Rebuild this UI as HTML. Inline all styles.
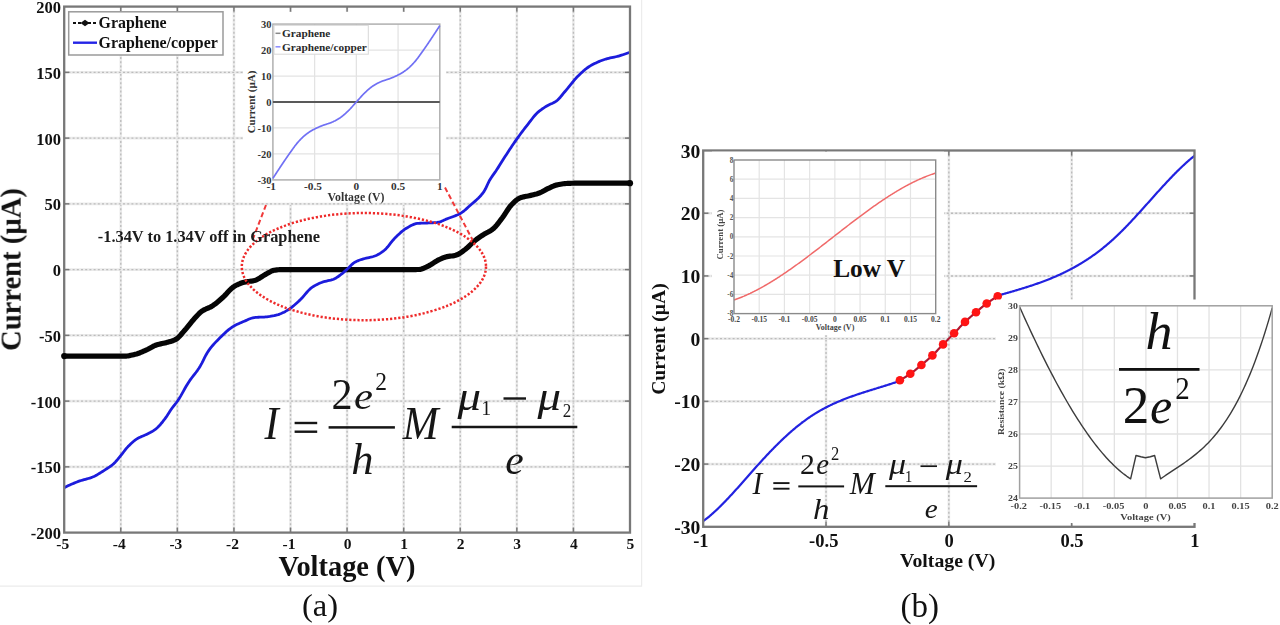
<!DOCTYPE html>
<html><head><meta charset="utf-8"><title>Figure</title>
<style>html,body{margin:0;padding:0;background:#fff;width:1280px;height:625px;overflow:hidden}svg{display:block;filter:blur(0.6px)}</style>
</head><body>
<svg width="1280" height="625" viewBox="0 0 1280 625">
<path d="M0,586.2 H641.6 V0" fill="none" stroke="#ececec" stroke-width="1.2"/>
<line x1="120.78" y1="6.60" x2="120.78" y2="532.60" stroke="#ebebeb" stroke-width="2.6"/>
<line x1="120.78" y1="6.60" x2="120.78" y2="532.60" stroke="#bcbcbc" stroke-width="1.4" stroke-dasharray="2 2.2"/>
<line x1="177.36" y1="6.60" x2="177.36" y2="532.60" stroke="#ebebeb" stroke-width="2.6"/>
<line x1="177.36" y1="6.60" x2="177.36" y2="532.60" stroke="#bcbcbc" stroke-width="1.4" stroke-dasharray="2 2.2"/>
<line x1="233.94" y1="6.60" x2="233.94" y2="532.60" stroke="#ebebeb" stroke-width="2.6"/>
<line x1="233.94" y1="6.60" x2="233.94" y2="532.60" stroke="#bcbcbc" stroke-width="1.4" stroke-dasharray="2 2.2"/>
<line x1="290.52" y1="6.60" x2="290.52" y2="532.60" stroke="#ebebeb" stroke-width="2.6"/>
<line x1="290.52" y1="6.60" x2="290.52" y2="532.60" stroke="#bcbcbc" stroke-width="1.4" stroke-dasharray="2 2.2"/>
<line x1="347.10" y1="6.60" x2="347.10" y2="532.60" stroke="#ebebeb" stroke-width="2.6"/>
<line x1="347.10" y1="6.60" x2="347.10" y2="532.60" stroke="#bcbcbc" stroke-width="1.4" stroke-dasharray="2 2.2"/>
<line x1="403.68" y1="6.60" x2="403.68" y2="532.60" stroke="#ebebeb" stroke-width="2.6"/>
<line x1="403.68" y1="6.60" x2="403.68" y2="532.60" stroke="#bcbcbc" stroke-width="1.4" stroke-dasharray="2 2.2"/>
<line x1="460.26" y1="6.60" x2="460.26" y2="532.60" stroke="#ebebeb" stroke-width="2.6"/>
<line x1="460.26" y1="6.60" x2="460.26" y2="532.60" stroke="#bcbcbc" stroke-width="1.4" stroke-dasharray="2 2.2"/>
<line x1="516.84" y1="6.60" x2="516.84" y2="532.60" stroke="#ebebeb" stroke-width="2.6"/>
<line x1="516.84" y1="6.60" x2="516.84" y2="532.60" stroke="#bcbcbc" stroke-width="1.4" stroke-dasharray="2 2.2"/>
<line x1="573.42" y1="6.60" x2="573.42" y2="532.60" stroke="#ebebeb" stroke-width="2.6"/>
<line x1="573.42" y1="6.60" x2="573.42" y2="532.60" stroke="#bcbcbc" stroke-width="1.4" stroke-dasharray="2 2.2"/>
<line x1="64.20" y1="466.85" x2="630.00" y2="466.85" stroke="#ebebeb" stroke-width="2.6"/>
<line x1="64.20" y1="466.85" x2="630.00" y2="466.85" stroke="#bcbcbc" stroke-width="1.4" stroke-dasharray="2 2.2"/>
<line x1="64.20" y1="401.10" x2="630.00" y2="401.10" stroke="#ebebeb" stroke-width="2.6"/>
<line x1="64.20" y1="401.10" x2="630.00" y2="401.10" stroke="#bcbcbc" stroke-width="1.4" stroke-dasharray="2 2.2"/>
<line x1="64.20" y1="335.35" x2="630.00" y2="335.35" stroke="#ebebeb" stroke-width="2.6"/>
<line x1="64.20" y1="335.35" x2="630.00" y2="335.35" stroke="#bcbcbc" stroke-width="1.4" stroke-dasharray="2 2.2"/>
<line x1="64.20" y1="269.60" x2="630.00" y2="269.60" stroke="#ebebeb" stroke-width="2.6"/>
<line x1="64.20" y1="269.60" x2="630.00" y2="269.60" stroke="#bcbcbc" stroke-width="1.4" stroke-dasharray="2 2.2"/>
<line x1="64.20" y1="203.85" x2="630.00" y2="203.85" stroke="#ebebeb" stroke-width="2.6"/>
<line x1="64.20" y1="203.85" x2="630.00" y2="203.85" stroke="#bcbcbc" stroke-width="1.4" stroke-dasharray="2 2.2"/>
<line x1="64.20" y1="138.10" x2="630.00" y2="138.10" stroke="#ebebeb" stroke-width="2.6"/>
<line x1="64.20" y1="138.10" x2="630.00" y2="138.10" stroke="#bcbcbc" stroke-width="1.4" stroke-dasharray="2 2.2"/>
<line x1="64.20" y1="72.35" x2="630.00" y2="72.35" stroke="#ebebeb" stroke-width="2.6"/>
<line x1="64.20" y1="72.35" x2="630.00" y2="72.35" stroke="#bcbcbc" stroke-width="1.4" stroke-dasharray="2 2.2"/>
<path d="M64.20,356.13 L65.62,356.13 L67.04,356.13 L68.45,356.13 L69.87,356.13 L71.29,356.13 L72.71,356.13 L74.13,356.13 L75.54,356.13 L76.96,356.13 L78.38,356.13 L79.80,356.13 L81.22,356.13 L82.63,356.13 L84.05,356.13 L85.47,356.13 L86.89,356.13 L88.31,356.13 L89.72,356.13 L91.14,356.13 L92.56,356.13 L93.98,356.13 L95.40,356.13 L96.82,356.13 L98.23,356.13 L99.65,356.13 L101.07,356.13 L102.49,356.13 L103.91,356.13 L105.32,356.13 L106.74,356.13 L108.16,356.13 L109.58,356.13 L111.00,356.13 L112.41,356.13 L113.83,356.13 L115.25,356.13 L116.67,356.13 L118.09,356.13 L119.50,356.13 L120.92,356.13 L122.34,356.13 L123.76,356.13 L125.18,356.12 L126.59,356.04 L128.01,355.87 L129.43,355.63 L130.85,355.33 L132.27,355.01 L133.68,354.66 L135.10,354.31 L136.52,353.94 L137.94,353.49 L139.36,352.98 L140.77,352.43 L142.19,351.84 L143.61,351.23 L145.03,350.62 L146.45,349.99 L147.86,349.28 L149.28,348.50 L150.70,347.70 L152.12,346.91 L153.54,346.16 L154.95,345.50 L156.37,344.97 L157.79,344.54 L159.21,344.18 L160.63,343.87 L162.05,343.57 L163.46,343.28 L164.88,342.96 L166.30,342.61 L167.72,342.22 L169.14,341.83 L170.55,341.41 L171.97,340.96 L173.39,340.45 L174.81,339.84 L176.23,339.11 L177.64,338.05 L179.06,336.71 L180.48,335.18 L181.90,333.54 L183.32,331.88 L184.73,330.28 L186.15,328.62 L187.57,326.87 L188.99,325.07 L190.41,323.28 L191.82,321.55 L193.24,319.92 L194.66,318.34 L196.08,316.74 L197.50,315.19 L198.91,313.73 L200.33,312.42 L201.75,311.31 L203.17,310.40 L204.59,309.64 L206.00,308.98 L207.42,308.36 L208.84,307.75 L210.26,307.09 L211.68,306.35 L213.09,305.47 L214.51,304.48 L215.93,303.40 L217.35,302.24 L218.77,301.03 L220.18,299.78 L221.60,298.51 L223.02,297.23 L224.44,295.90 L225.86,294.41 L227.28,292.85 L228.69,291.28 L230.11,289.77 L231.53,288.40 L232.95,287.23 L234.37,286.31 L235.78,285.52 L237.20,284.80 L238.62,284.13 L240.04,283.54 L241.46,283.01 L242.87,282.56 L244.29,282.18 L245.71,281.89 L247.13,281.65 L248.55,281.45 L249.96,281.27 L251.38,281.07 L252.80,280.84 L254.22,280.55 L255.64,280.15 L257.05,279.56 L258.47,278.80 L259.89,277.93 L261.31,277.00 L262.73,276.07 L264.14,275.17 L265.56,274.37 L266.98,273.59 L268.40,272.75 L269.82,271.93 L271.23,271.19 L272.65,270.61 L274.07,270.26 L275.49,270.07 L276.91,269.91 L278.32,269.77 L279.74,269.67 L281.16,269.61 L282.58,269.60 L284.00,269.60 L285.42,269.60 L286.83,269.60 L288.25,269.60 L289.67,269.60 L291.09,269.60 L292.51,269.60 L293.92,269.60 L295.34,269.60 L296.76,269.60 L298.18,269.60 L299.60,269.60 L301.01,269.60 L302.43,269.60 L303.85,269.60 L305.27,269.60 L306.69,269.60 L308.10,269.60 L309.52,269.60 L310.94,269.60 L312.36,269.60 L313.78,269.60 L315.19,269.60 L316.61,269.60 L318.03,269.60 L319.45,269.60 L320.87,269.60 L322.28,269.60 L323.70,269.60 L325.12,269.60 L326.54,269.60 L327.96,269.60 L329.37,269.60 L330.79,269.60 L332.21,269.60 L333.63,269.60 L335.05,269.60 L336.46,269.60 L337.88,269.60 L339.30,269.60 L340.72,269.60 L342.14,269.60 L343.55,269.60 L344.97,269.60 L346.39,269.60 L347.81,269.60 L349.23,269.60 L350.65,269.60 L352.06,269.60 L353.48,269.60 L354.90,269.60 L356.32,269.60 L357.74,269.60 L359.15,269.60 L360.57,269.60 L361.99,269.60 L363.41,269.60 L364.83,269.60 L366.24,269.60 L367.66,269.60 L369.08,269.60 L370.50,269.60 L371.92,269.60 L373.33,269.60 L374.75,269.60 L376.17,269.60 L377.59,269.60 L379.01,269.60 L380.42,269.60 L381.84,269.60 L383.26,269.60 L384.68,269.60 L386.10,269.60 L387.51,269.60 L388.93,269.60 L390.35,269.60 L391.77,269.60 L393.19,269.60 L394.60,269.60 L396.02,269.60 L397.44,269.60 L398.86,269.60 L400.28,269.60 L401.69,269.60 L403.11,269.60 L404.53,269.60 L405.95,269.60 L407.37,269.60 L408.78,269.60 L410.20,269.60 L411.62,269.59 L413.04,269.58 L414.46,269.57 L415.88,269.54 L417.29,269.51 L418.71,269.48 L420.13,269.36 L421.55,269.03 L422.97,268.54 L424.38,267.94 L425.80,267.27 L427.22,266.57 L428.64,265.89 L430.06,265.14 L431.47,264.27 L432.89,263.33 L434.31,262.37 L435.73,261.46 L437.15,260.64 L438.56,259.94 L439.98,259.25 L441.40,258.59 L442.82,257.98 L444.24,257.44 L445.65,256.98 L447.07,256.63 L448.49,256.37 L449.91,256.17 L451.33,256.00 L452.74,255.82 L454.16,255.60 L455.58,255.30 L457.00,254.85 L458.42,254.19 L459.83,253.36 L461.25,252.40 L462.67,251.36 L464.09,250.29 L465.51,249.23 L466.92,248.08 L468.34,246.78 L469.76,245.39 L471.18,244.00 L472.60,242.64 L474.02,241.38 L475.43,240.25 L476.85,239.18 L478.27,238.14 L479.69,237.14 L481.11,236.17 L482.52,235.23 L483.94,234.32 L485.36,233.49 L486.78,232.73 L488.20,231.99 L489.61,231.21 L491.03,230.35 L492.45,229.36 L493.87,228.17 L495.29,226.73 L496.70,225.10 L498.12,223.32 L499.54,221.47 L500.96,219.59 L502.38,217.73 L503.79,215.73 L505.21,213.57 L506.63,211.36 L508.05,209.20 L509.47,207.20 L510.88,205.48 L512.30,204.01 L513.72,202.58 L515.14,201.23 L516.56,200.01 L517.97,198.97 L519.39,198.16 L520.81,197.60 L522.23,197.18 L523.65,196.83 L525.06,196.54 L526.48,196.27 L527.90,196.00 L529.32,195.69 L530.74,195.35 L532.15,195.02 L533.57,194.69 L534.99,194.34 L536.41,193.97 L537.83,193.55 L539.25,193.08 L540.66,192.48 L542.08,191.76 L543.50,190.98 L544.92,190.18 L546.34,189.40 L547.75,188.69 L549.17,188.04 L550.59,187.37 L552.01,186.71 L553.43,186.09 L554.84,185.54 L556.26,185.10 L557.68,184.77 L559.10,184.47 L560.52,184.20 L561.93,183.97 L563.35,183.76 L564.77,183.60 L566.19,183.49 L567.61,183.42 L569.02,183.36 L570.44,183.31 L571.86,183.26 L573.28,183.23 L574.70,183.21 L576.11,183.20 L577.53,183.20 L578.95,183.20 L580.37,183.20 L581.79,183.20 L583.20,183.20 L584.62,183.20 L586.04,183.20 L587.46,183.20 L588.88,183.20 L590.29,183.20 L591.71,183.20 L593.13,183.20 L594.55,183.20 L595.97,183.20 L597.38,183.20 L598.80,183.20 L600.22,183.20 L601.64,183.20 L603.06,183.20 L604.48,183.20 L605.89,183.20 L607.31,183.20 L608.73,183.20 L610.15,183.20 L611.57,183.20 L612.98,183.20 L614.40,183.20 L615.82,183.20 L617.24,183.20 L618.66,183.20 L620.07,183.20 L621.49,183.20 L622.91,183.20 L624.33,183.20 L625.75,183.20 L627.16,183.20 L628.58,183.20 L630.00,183.20" fill="none" stroke="#050505" stroke-width="5.2" stroke-linejoin="round" stroke-linecap="butt"/>
<path d="M64.20,487.63 L65.62,486.93 L67.04,486.24 L68.45,485.58 L69.87,484.93 L71.29,484.29 L72.71,483.68 L74.13,483.09 L75.54,482.51 L76.96,481.96 L78.38,481.43 L79.80,480.94 L81.22,480.50 L82.63,480.08 L84.05,479.68 L85.47,479.29 L86.89,478.90 L88.31,478.49 L89.72,478.05 L91.14,477.57 L92.56,477.04 L93.98,476.44 L95.40,475.75 L96.82,474.99 L98.23,474.16 L99.65,473.29 L101.07,472.39 L102.49,471.48 L103.91,470.57 L105.32,469.67 L106.74,468.78 L108.16,467.87 L109.58,466.92 L111.00,465.91 L112.41,464.81 L113.83,463.59 L115.25,462.16 L116.67,460.55 L118.09,458.84 L119.50,457.09 L120.92,455.37 L122.34,453.61 L123.76,451.76 L125.18,449.92 L126.59,448.17 L128.01,446.59 L129.43,445.16 L130.85,443.78 L132.27,442.47 L133.68,441.24 L135.10,440.12 L136.52,439.13 L137.94,438.28 L139.36,437.55 L140.77,436.90 L142.19,436.30 L143.61,435.71 L145.03,435.09 L146.45,434.40 L147.86,433.68 L149.28,432.96 L150.70,432.23 L152.12,431.44 L153.54,430.59 L154.95,429.64 L156.37,428.57 L157.79,427.30 L159.21,425.84 L160.63,424.23 L162.05,422.51 L163.46,420.72 L164.88,418.89 L166.30,416.94 L167.72,414.80 L169.14,412.56 L170.55,410.33 L171.97,408.22 L173.39,406.31 L174.81,404.53 L176.23,402.75 L177.64,400.85 L179.06,398.71 L180.48,396.38 L181.90,393.91 L183.32,391.36 L184.73,388.80 L186.15,386.30 L187.57,383.91 L188.99,381.70 L190.41,379.66 L191.82,377.75 L193.24,375.91 L194.66,374.09 L196.08,372.24 L197.50,370.30 L198.91,368.23 L200.33,365.93 L201.75,363.33 L203.17,360.54 L204.59,357.71 L206.00,354.98 L207.42,352.49 L208.84,350.36 L210.26,348.46 L211.68,346.67 L213.09,345.00 L214.51,343.41 L215.93,341.89 L217.35,340.43 L218.77,339.00 L220.18,337.59 L221.60,336.18 L223.02,334.79 L224.44,333.42 L225.86,332.10 L227.28,330.83 L228.69,329.64 L230.11,328.53 L231.53,327.53 L232.95,326.63 L234.37,325.81 L235.78,325.05 L237.20,324.34 L238.62,323.67 L240.04,323.04 L241.46,322.42 L242.87,321.83 L244.29,321.23 L245.71,320.60 L247.13,319.95 L248.55,319.32 L249.96,318.74 L251.38,318.23 L252.80,317.82 L254.22,317.54 L255.64,317.41 L257.05,317.32 L258.47,317.25 L259.89,317.20 L261.31,317.16 L262.73,317.10 L264.14,317.04 L265.56,316.94 L266.98,316.82 L268.40,316.65 L269.82,316.45 L271.23,316.21 L272.65,315.94 L274.07,315.65 L275.49,315.32 L276.91,314.98 L278.32,314.57 L279.74,314.07 L281.16,313.50 L282.58,312.85 L284.00,312.14 L285.42,311.39 L286.83,310.60 L288.25,309.77 L289.67,308.84 L291.09,307.81 L292.51,306.69 L293.92,305.50 L295.34,304.26 L296.76,302.97 L298.18,301.66 L299.60,300.35 L301.01,299.00 L302.43,297.49 L303.85,295.86 L305.27,294.18 L306.69,292.50 L308.10,290.90 L309.52,289.43 L310.94,288.15 L312.36,287.13 L313.78,286.24 L315.19,285.41 L316.61,284.64 L318.03,283.94 L319.45,283.30 L320.87,282.71 L322.28,282.19 L323.70,281.71 L325.12,281.33 L326.54,281.01 L327.96,280.72 L329.37,280.43 L330.79,280.11 L332.21,279.71 L333.63,279.20 L335.05,278.51 L336.46,277.68 L337.88,276.74 L339.30,275.74 L340.72,274.71 L342.14,273.62 L343.55,272.41 L344.97,271.13 L346.39,269.84 L347.81,268.56 L349.23,267.16 L350.65,265.72 L352.06,264.34 L353.48,263.12 L354.90,262.17 L356.32,261.46 L357.74,260.84 L359.15,260.29 L360.57,259.80 L361.99,259.34 L363.41,258.92 L364.83,258.50 L366.24,258.13 L367.66,257.80 L369.08,257.51 L370.50,257.21 L371.92,256.87 L373.33,256.48 L374.75,256.01 L376.17,255.43 L377.59,254.74 L379.01,253.96 L380.42,253.09 L381.84,252.14 L383.26,251.13 L384.68,250.01 L386.10,248.63 L387.51,247.03 L388.93,245.29 L390.35,243.48 L391.77,241.68 L393.19,239.95 L394.60,238.37 L396.02,236.97 L397.44,235.59 L398.86,234.24 L400.28,232.92 L401.69,231.67 L403.11,230.51 L404.53,229.44 L405.95,228.51 L407.37,227.69 L408.78,226.87 L410.20,226.08 L411.62,225.34 L413.04,224.68 L414.46,224.13 L415.88,223.71 L417.29,223.47 L418.71,223.36 L420.13,223.27 L421.55,223.20 L422.97,223.15 L424.38,223.10 L425.80,223.06 L427.22,223.00 L428.64,222.94 L430.06,222.87 L431.47,222.80 L432.89,222.74 L434.31,222.66 L435.73,222.56 L437.15,222.44 L438.56,222.24 L439.98,221.86 L441.40,221.33 L442.82,220.70 L444.24,220.04 L445.65,219.40 L447.07,218.82 L448.49,218.29 L449.91,217.77 L451.33,217.27 L452.74,216.75 L454.16,216.22 L455.58,215.66 L457.00,215.06 L458.42,214.40 L459.83,213.68 L461.25,212.86 L462.67,211.89 L464.09,210.79 L465.51,209.60 L466.92,208.35 L468.34,207.07 L469.76,205.78 L471.18,204.52 L472.60,203.29 L474.02,202.08 L475.43,200.85 L476.85,199.58 L478.27,198.24 L479.69,196.79 L481.11,195.23 L482.52,193.51 L483.94,191.57 L485.36,189.03 L486.78,186.06 L488.20,183.01 L489.61,180.23 L491.03,177.92 L492.45,175.85 L493.87,173.88 L495.29,171.92 L496.70,169.83 L498.12,167.63 L499.54,165.36 L500.96,163.06 L502.38,160.78 L503.79,158.53 L505.21,156.34 L506.63,154.15 L508.05,151.97 L509.47,149.81 L510.88,147.67 L512.30,145.55 L513.72,143.47 L515.14,141.42 L516.56,139.41 L517.97,137.42 L519.39,135.47 L520.81,133.54 L522.23,131.63 L523.65,129.75 L525.06,127.90 L526.48,126.07 L527.90,124.27 L529.32,122.45 L530.74,120.60 L532.15,118.76 L533.57,116.97 L534.99,115.27 L536.41,113.72 L537.83,112.35 L539.25,111.15 L540.66,110.04 L542.08,109.02 L543.50,108.06 L544.92,107.16 L546.34,106.30 L547.75,105.47 L549.17,104.71 L550.59,104.06 L552.01,103.45 L553.43,102.80 L554.84,102.06 L556.26,101.14 L557.68,99.96 L559.10,98.55 L560.52,96.95 L561.93,95.25 L563.35,93.49 L564.77,91.76 L566.19,90.09 L567.61,88.43 L569.02,86.70 L570.44,84.93 L571.86,83.15 L573.28,81.40 L574.70,79.70 L576.11,78.08 L577.53,76.58 L578.95,75.18 L580.37,73.81 L581.79,72.47 L583.20,71.18 L584.62,69.95 L586.04,68.79 L587.46,67.72 L588.88,66.76 L590.29,65.90 L591.71,65.09 L593.13,64.33 L594.55,63.60 L595.97,62.91 L597.38,62.25 L598.80,61.63 L600.22,61.04 L601.64,60.49 L603.06,59.97 L604.48,59.49 L605.89,59.04 L607.31,58.63 L608.73,58.27 L610.15,57.95 L611.57,57.64 L612.98,57.35 L614.40,57.06 L615.82,56.75 L617.24,56.41 L618.66,56.03 L620.07,55.62 L621.49,55.19 L622.91,54.74 L624.33,54.27 L625.75,53.79 L627.16,53.28 L628.58,52.76 L630.00,52.23" fill="none" stroke="#1c1cdc" stroke-width="2.8" stroke-linejoin="round"/>
<ellipse cx="363.9" cy="266.6" rx="122.1" ry="53.6" fill="none" stroke="#ee2a2a" stroke-width="2.5" stroke-dasharray="2.2 1.9"/>
<rect x="243" y="12" width="203" height="190.5" fill="#fff"/>
<line x1="266.00" y1="205.00" x2="252.50" y2="240.00" stroke="#f03a3a" stroke-width="2" stroke-dasharray="5 3"/>
<line x1="445.00" y1="187.50" x2="472.60" y2="240.00" stroke="#f03a3a" stroke-width="2" stroke-dasharray="5 3"/>
<line x1="314.62" y1="24.10" x2="314.62" y2="179.90" stroke="#e3e3e3" stroke-width="1.3"/>
<line x1="356.35" y1="24.10" x2="356.35" y2="179.90" stroke="#e3e3e3" stroke-width="1.3"/>
<line x1="398.07" y1="24.10" x2="398.07" y2="179.90" stroke="#e3e3e3" stroke-width="1.3"/>
<line x1="272.90" y1="153.93" x2="439.80" y2="153.93" stroke="#e3e3e3" stroke-width="1.3"/>
<line x1="272.90" y1="127.97" x2="439.80" y2="127.97" stroke="#e3e3e3" stroke-width="1.3"/>
<line x1="272.90" y1="76.03" x2="439.80" y2="76.03" stroke="#e3e3e3" stroke-width="1.3"/>
<line x1="272.90" y1="50.07" x2="439.80" y2="50.07" stroke="#e3e3e3" stroke-width="1.3"/>
<rect x="272.9" y="24.1" width="166.9" height="155.8" fill="none" stroke="#b0b0b0" stroke-width="1.5"/>
<rect x="274" y="25.3" width="94.3" height="28.9" fill="#fff" stroke="#d8d8d8" stroke-width="1"/>
<text transform="translate(282.00,37.20)" text-anchor="start" style="font-family:'Liberation Serif',serif;font-size:11.30px;font-weight:bold" fill="#2a2a2a">Graphene</text>
<text transform="translate(282.00,50.90)" text-anchor="start" style="font-family:'Liberation Serif',serif;font-size:11.30px;font-weight:bold" fill="#2a2a2a">Graphene/copper</text>
<line x1="275.50" y1="33.30" x2="280.50" y2="33.30" stroke="#888" stroke-width="1.5"/>
<line x1="275.50" y1="46.80" x2="280.50" y2="46.80" stroke="#8888ff" stroke-width="1.5"/>
<line x1="272.90" y1="102.00" x2="439.80" y2="102.00" stroke="#595959" stroke-width="2"/>
<path d="M272.90,178.34 L273.32,177.69 L273.74,177.04 L274.15,176.40 L274.57,175.75 L274.99,175.10 L275.41,174.46 L275.83,173.82 L276.25,173.18 L276.66,172.54 L277.08,171.90 L277.50,171.26 L277.92,170.63 L278.34,169.99 L278.76,169.36 L279.17,168.73 L279.59,168.10 L280.01,167.47 L280.43,166.84 L280.85,166.21 L281.27,165.59 L281.68,164.96 L282.10,164.34 L282.52,163.71 L282.94,163.09 L283.36,162.47 L283.78,161.85 L284.19,161.22 L284.61,160.60 L285.03,159.99 L285.45,159.37 L285.87,158.76 L286.29,158.14 L286.70,157.53 L287.12,156.93 L287.54,156.32 L287.96,155.72 L288.38,155.13 L288.80,154.53 L289.21,153.94 L289.63,153.36 L290.05,152.77 L290.47,152.18 L290.89,151.59 L291.31,150.99 L291.72,150.40 L292.14,149.81 L292.56,149.22 L292.98,148.63 L293.40,148.05 L293.81,147.47 L294.23,146.90 L294.65,146.33 L295.07,145.78 L295.49,145.23 L295.91,144.69 L296.32,144.16 L296.74,143.64 L297.16,143.14 L297.58,142.65 L298.00,142.18 L298.42,141.71 L298.83,141.25 L299.25,140.79 L299.67,140.34 L300.09,139.90 L300.51,139.46 L300.93,139.03 L301.34,138.60 L301.76,138.18 L302.18,137.77 L302.60,137.37 L303.02,136.97 L303.44,136.59 L303.85,136.21 L304.27,135.84 L304.69,135.48 L305.11,135.13 L305.53,134.79 L305.95,134.46 L306.36,134.14 L306.78,133.82 L307.20,133.52 L307.62,133.22 L308.04,132.93 L308.46,132.64 L308.87,132.36 L309.29,132.08 L309.71,131.81 L310.13,131.55 L310.55,131.29 L310.96,131.04 L311.38,130.79 L311.80,130.54 L312.22,130.30 L312.64,130.07 L313.06,129.84 L313.47,129.61 L313.89,129.39 L314.31,129.17 L314.73,128.95 L315.15,128.74 L315.57,128.53 L315.98,128.33 L316.40,128.13 L316.82,127.93 L317.24,127.74 L317.66,127.55 L318.08,127.37 L318.49,127.18 L318.91,127.00 L319.33,126.83 L319.75,126.65 L320.17,126.48 L320.59,126.31 L321.00,126.14 L321.42,125.97 L321.84,125.81 L322.26,125.64 L322.68,125.48 L323.10,125.32 L323.51,125.17 L323.93,125.02 L324.35,124.87 L324.77,124.73 L325.19,124.59 L325.61,124.46 L326.02,124.33 L326.44,124.19 L326.86,124.06 L327.28,123.93 L327.70,123.80 L328.12,123.67 L328.53,123.53 L328.95,123.39 L329.37,123.25 L329.79,123.10 L330.21,122.95 L330.62,122.79 L331.04,122.63 L331.46,122.45 L331.88,122.27 L332.30,122.09 L332.72,121.91 L333.13,121.71 L333.55,121.52 L333.97,121.32 L334.39,121.11 L334.81,120.90 L335.23,120.69 L335.64,120.47 L336.06,120.24 L336.48,120.01 L336.90,119.78 L337.32,119.54 L337.74,119.29 L338.15,119.04 L338.57,118.79 L338.99,118.53 L339.41,118.26 L339.83,117.99 L340.25,117.71 L340.66,117.42 L341.08,117.11 L341.50,116.80 L341.92,116.48 L342.34,116.15 L342.76,115.81 L343.17,115.47 L343.59,115.11 L344.01,114.75 L344.43,114.39 L344.85,114.02 L345.27,113.64 L345.68,113.26 L346.10,112.87 L346.52,112.49 L346.94,112.10 L347.36,111.70 L347.77,111.31 L348.19,110.91 L348.61,110.50 L349.03,110.08 L349.45,109.66 L349.87,109.22 L350.28,108.77 L350.70,108.32 L351.12,107.87 L351.54,107.40 L351.96,106.94 L352.38,106.47 L352.79,105.99 L353.21,105.52 L353.63,105.05 L354.05,104.57 L354.47,104.10 L354.89,103.62 L355.30,103.15 L355.72,102.69 L356.14,102.23 L356.56,101.77 L356.98,101.31 L357.40,100.85 L357.81,100.38 L358.23,99.90 L358.65,99.43 L359.07,98.95 L359.49,98.48 L359.91,98.01 L360.32,97.53 L360.74,97.06 L361.16,96.60 L361.58,96.13 L362.00,95.68 L362.42,95.23 L362.83,94.78 L363.25,94.34 L363.67,93.92 L364.09,93.50 L364.51,93.09 L364.93,92.69 L365.34,92.30 L365.76,91.90 L366.18,91.51 L366.60,91.13 L367.02,90.74 L367.43,90.36 L367.85,89.98 L368.27,89.61 L368.69,89.25 L369.11,88.89 L369.53,88.53 L369.94,88.19 L370.36,87.85 L370.78,87.52 L371.20,87.20 L371.62,86.89 L372.04,86.58 L372.45,86.29 L372.87,86.01 L373.29,85.74 L373.71,85.47 L374.13,85.21 L374.55,84.96 L374.96,84.71 L375.38,84.46 L375.80,84.22 L376.22,83.99 L376.64,83.76 L377.06,83.53 L377.47,83.31 L377.89,83.10 L378.31,82.89 L378.73,82.68 L379.15,82.48 L379.57,82.29 L379.98,82.09 L380.40,81.91 L380.82,81.73 L381.24,81.55 L381.66,81.37 L382.08,81.21 L382.49,81.05 L382.91,80.90 L383.33,80.75 L383.75,80.61 L384.17,80.47 L384.58,80.33 L385.00,80.20 L385.42,80.07 L385.84,79.94 L386.26,79.81 L386.68,79.67 L387.09,79.54 L387.51,79.41 L387.93,79.27 L388.35,79.13 L388.77,78.98 L389.19,78.83 L389.60,78.68 L390.02,78.52 L390.44,78.36 L390.86,78.19 L391.28,78.03 L391.70,77.86 L392.11,77.69 L392.53,77.52 L392.95,77.35 L393.37,77.17 L393.79,77.00 L394.21,76.82 L394.62,76.63 L395.04,76.45 L395.46,76.26 L395.88,76.07 L396.30,75.87 L396.72,75.67 L397.13,75.47 L397.55,75.26 L397.97,75.05 L398.39,74.83 L398.81,74.61 L399.23,74.39 L399.64,74.16 L400.06,73.93 L400.48,73.70 L400.90,73.46 L401.32,73.21 L401.74,72.96 L402.15,72.71 L402.57,72.45 L402.99,72.19 L403.41,71.92 L403.83,71.64 L404.24,71.36 L404.66,71.07 L405.08,70.78 L405.50,70.48 L405.92,70.18 L406.34,69.86 L406.75,69.54 L407.17,69.21 L407.59,68.87 L408.01,68.52 L408.43,68.16 L408.85,67.79 L409.26,67.41 L409.68,67.03 L410.10,66.63 L410.52,66.23 L410.94,65.82 L411.36,65.40 L411.77,64.97 L412.19,64.54 L412.61,64.10 L413.03,63.66 L413.45,63.21 L413.87,62.75 L414.28,62.29 L414.70,61.82 L415.12,61.35 L415.54,60.86 L415.96,60.36 L416.38,59.84 L416.79,59.31 L417.21,58.77 L417.63,58.22 L418.05,57.67 L418.47,57.10 L418.89,56.53 L419.30,55.95 L419.72,55.37 L420.14,54.78 L420.56,54.19 L420.98,53.60 L421.39,53.01 L421.81,52.41 L422.23,51.82 L422.65,51.23 L423.07,50.64 L423.49,50.06 L423.90,49.47 L424.32,48.87 L424.74,48.28 L425.16,47.68 L425.58,47.07 L426.00,46.47 L426.41,45.86 L426.83,45.24 L427.25,44.63 L427.67,44.01 L428.09,43.40 L428.51,42.78 L428.92,42.15 L429.34,41.53 L429.76,40.91 L430.18,40.29 L430.60,39.66 L431.02,39.04 L431.43,38.41 L431.85,37.79 L432.27,37.16 L432.69,36.53 L433.11,35.90 L433.53,35.27 L433.94,34.64 L434.36,34.01 L434.78,33.37 L435.20,32.74 L435.62,32.10 L436.04,31.46 L436.45,30.82 L436.87,30.18 L437.29,29.54 L437.71,28.90 L438.13,28.25 L438.55,27.60 L438.96,26.96 L439.38,26.31 L439.80,25.66" fill="none" stroke="#7070f4" stroke-width="1.7"/>
<text transform="translate(271.50,27.80)" text-anchor="end" style="font-family:'Liberation Serif',serif;font-size:10.50px;font-weight:bold" fill="#333">30</text>
<text transform="translate(271.50,53.77)" text-anchor="end" style="font-family:'Liberation Serif',serif;font-size:10.50px;font-weight:bold" fill="#333">20</text>
<text transform="translate(271.50,79.73)" text-anchor="end" style="font-family:'Liberation Serif',serif;font-size:10.50px;font-weight:bold" fill="#333">10</text>
<text transform="translate(271.50,105.70)" text-anchor="end" style="font-family:'Liberation Serif',serif;font-size:10.50px;font-weight:bold" fill="#333">0</text>
<text transform="translate(271.50,131.67)" text-anchor="end" style="font-family:'Liberation Serif',serif;font-size:10.50px;font-weight:bold" fill="#333">-10</text>
<text transform="translate(271.50,157.63)" text-anchor="end" style="font-family:'Liberation Serif',serif;font-size:10.50px;font-weight:bold" fill="#333">-20</text>
<text transform="translate(271.50,183.60)" text-anchor="end" style="font-family:'Liberation Serif',serif;font-size:10.50px;font-weight:bold" fill="#333">-30</text>
<text transform="translate(271.20,190.00)" text-anchor="middle" style="font-family:'Liberation Serif',serif;font-size:11.30px;font-weight:bold" fill="#333">-1</text>
<text transform="translate(312.93,190.00)" text-anchor="middle" style="font-family:'Liberation Serif',serif;font-size:11.30px;font-weight:bold" fill="#333">-0.5</text>
<text transform="translate(356.35,190.00)" text-anchor="middle" style="font-family:'Liberation Serif',serif;font-size:11.30px;font-weight:bold" fill="#333">0</text>
<text transform="translate(398.07,190.00)" text-anchor="middle" style="font-family:'Liberation Serif',serif;font-size:11.30px;font-weight:bold" fill="#333">0.5</text>
<text transform="translate(439.80,190.00)" text-anchor="middle" style="font-family:'Liberation Serif',serif;font-size:11.30px;font-weight:bold" fill="#333">1</text>
<text transform="translate(356.00,201.30)" text-anchor="middle" style="font-family:'Liberation Serif',serif;font-size:11.80px;font-weight:bold" fill="#333">Voltage (V)</text>
<text transform="translate(254.50,102.00) rotate(-90)" text-anchor="middle" style="font-family:'Liberation Serif',serif;font-size:11.00px;font-weight:bold" fill="#333">Current (µA)</text>
<rect x="64.2" y="6.6" width="565.8" height="526.0" fill="none" stroke="#787878" stroke-width="2.3"/>
<circle cx="64.2" cy="356.1" r="3.1" fill="#050505"/>
<circle cx="630.0" cy="183.2" r="3.1" fill="#050505"/>
<line x1="120.78" y1="532.60" x2="120.78" y2="527.60" stroke="#787878" stroke-width="1.5"/>
<line x1="120.78" y1="6.60" x2="120.78" y2="11.60" stroke="#787878" stroke-width="1.5"/>
<line x1="177.36" y1="532.60" x2="177.36" y2="527.60" stroke="#787878" stroke-width="1.5"/>
<line x1="177.36" y1="6.60" x2="177.36" y2="11.60" stroke="#787878" stroke-width="1.5"/>
<line x1="233.94" y1="532.60" x2="233.94" y2="527.60" stroke="#787878" stroke-width="1.5"/>
<line x1="233.94" y1="6.60" x2="233.94" y2="11.60" stroke="#787878" stroke-width="1.5"/>
<line x1="290.52" y1="532.60" x2="290.52" y2="527.60" stroke="#787878" stroke-width="1.5"/>
<line x1="290.52" y1="6.60" x2="290.52" y2="11.60" stroke="#787878" stroke-width="1.5"/>
<line x1="347.10" y1="532.60" x2="347.10" y2="527.60" stroke="#787878" stroke-width="1.5"/>
<line x1="347.10" y1="6.60" x2="347.10" y2="11.60" stroke="#787878" stroke-width="1.5"/>
<line x1="403.68" y1="532.60" x2="403.68" y2="527.60" stroke="#787878" stroke-width="1.5"/>
<line x1="403.68" y1="6.60" x2="403.68" y2="11.60" stroke="#787878" stroke-width="1.5"/>
<line x1="460.26" y1="532.60" x2="460.26" y2="527.60" stroke="#787878" stroke-width="1.5"/>
<line x1="460.26" y1="6.60" x2="460.26" y2="11.60" stroke="#787878" stroke-width="1.5"/>
<line x1="516.84" y1="532.60" x2="516.84" y2="527.60" stroke="#787878" stroke-width="1.5"/>
<line x1="516.84" y1="6.60" x2="516.84" y2="11.60" stroke="#787878" stroke-width="1.5"/>
<line x1="573.42" y1="532.60" x2="573.42" y2="527.60" stroke="#787878" stroke-width="1.5"/>
<line x1="573.42" y1="6.60" x2="573.42" y2="11.60" stroke="#787878" stroke-width="1.5"/>
<line x1="64.20" y1="466.85" x2="69.20" y2="466.85" stroke="#787878" stroke-width="1.5"/>
<line x1="630.00" y1="466.85" x2="625.00" y2="466.85" stroke="#787878" stroke-width="1.5"/>
<line x1="64.20" y1="401.10" x2="69.20" y2="401.10" stroke="#787878" stroke-width="1.5"/>
<line x1="630.00" y1="401.10" x2="625.00" y2="401.10" stroke="#787878" stroke-width="1.5"/>
<line x1="64.20" y1="335.35" x2="69.20" y2="335.35" stroke="#787878" stroke-width="1.5"/>
<line x1="630.00" y1="335.35" x2="625.00" y2="335.35" stroke="#787878" stroke-width="1.5"/>
<line x1="64.20" y1="269.60" x2="69.20" y2="269.60" stroke="#787878" stroke-width="1.5"/>
<line x1="630.00" y1="269.60" x2="625.00" y2="269.60" stroke="#787878" stroke-width="1.5"/>
<line x1="64.20" y1="203.85" x2="69.20" y2="203.85" stroke="#787878" stroke-width="1.5"/>
<line x1="630.00" y1="203.85" x2="625.00" y2="203.85" stroke="#787878" stroke-width="1.5"/>
<line x1="64.20" y1="138.10" x2="69.20" y2="138.10" stroke="#787878" stroke-width="1.5"/>
<line x1="630.00" y1="138.10" x2="625.00" y2="138.10" stroke="#787878" stroke-width="1.5"/>
<line x1="64.20" y1="72.35" x2="69.20" y2="72.35" stroke="#787878" stroke-width="1.5"/>
<line x1="630.00" y1="72.35" x2="625.00" y2="72.35" stroke="#787878" stroke-width="1.5"/>
<rect x="68.7" y="11.8" width="154.3" height="43.2" fill="#fff" stroke="#9a9a9a" stroke-width="1.5"/>
<line x1="73.00" y1="23.00" x2="97.00" y2="23.00" stroke="#111" stroke-width="2" stroke-dasharray="3 2"/>
<path d="M80.5,23 L85,19.8 L89.5,23 L85,26.2 Z" fill="#111"/>
<line x1="73.00" y1="42.70" x2="97.00" y2="42.70" stroke="#2424e6" stroke-width="2.4"/>
<text transform="translate(98.60,28.40)" text-anchor="start" style="font-family:'Liberation Serif',serif;font-size:15.90px;font-weight:bold" fill="#111">Graphene</text>
<text transform="translate(98.60,47.60)" text-anchor="start" style="font-family:'Liberation Serif',serif;font-size:15.90px;font-weight:bold" fill="#111">Graphene/copper</text>
<text transform="translate(61.00,539.20)" text-anchor="end" style="font-family:'Liberation Serif',serif;font-size:16.50px;font-weight:bold" fill="#111">-200</text>
<text transform="translate(61.00,473.45)" text-anchor="end" style="font-family:'Liberation Serif',serif;font-size:16.50px;font-weight:bold" fill="#111">-150</text>
<text transform="translate(61.00,407.70)" text-anchor="end" style="font-family:'Liberation Serif',serif;font-size:16.50px;font-weight:bold" fill="#111">-100</text>
<text transform="translate(61.00,341.95)" text-anchor="end" style="font-family:'Liberation Serif',serif;font-size:16.50px;font-weight:bold" fill="#111">-50</text>
<text transform="translate(61.00,276.20)" text-anchor="end" style="font-family:'Liberation Serif',serif;font-size:16.50px;font-weight:bold" fill="#111">0</text>
<text transform="translate(61.00,210.45)" text-anchor="end" style="font-family:'Liberation Serif',serif;font-size:16.50px;font-weight:bold" fill="#111">50</text>
<text transform="translate(61.00,144.70)" text-anchor="end" style="font-family:'Liberation Serif',serif;font-size:16.50px;font-weight:bold" fill="#111">100</text>
<text transform="translate(61.00,78.95)" text-anchor="end" style="font-family:'Liberation Serif',serif;font-size:16.50px;font-weight:bold" fill="#111">150</text>
<text transform="translate(61.00,13.20)" text-anchor="end" style="font-family:'Liberation Serif',serif;font-size:16.50px;font-weight:bold" fill="#111">200</text>
<text transform="translate(62.70,549.20)" text-anchor="middle" style="font-family:'Liberation Serif',serif;font-size:15.50px;font-weight:bold" fill="#111">-5</text>
<text transform="translate(119.28,549.20)" text-anchor="middle" style="font-family:'Liberation Serif',serif;font-size:15.50px;font-weight:bold" fill="#111">-4</text>
<text transform="translate(175.86,549.20)" text-anchor="middle" style="font-family:'Liberation Serif',serif;font-size:15.50px;font-weight:bold" fill="#111">-3</text>
<text transform="translate(232.44,549.20)" text-anchor="middle" style="font-family:'Liberation Serif',serif;font-size:15.50px;font-weight:bold" fill="#111">-2</text>
<text transform="translate(289.02,549.20)" text-anchor="middle" style="font-family:'Liberation Serif',serif;font-size:15.50px;font-weight:bold" fill="#111">-1</text>
<text transform="translate(347.50,549.20)" text-anchor="middle" style="font-family:'Liberation Serif',serif;font-size:15.50px;font-weight:bold" fill="#111">0</text>
<text transform="translate(404.08,549.20)" text-anchor="middle" style="font-family:'Liberation Serif',serif;font-size:15.50px;font-weight:bold" fill="#111">1</text>
<text transform="translate(460.66,549.20)" text-anchor="middle" style="font-family:'Liberation Serif',serif;font-size:15.50px;font-weight:bold" fill="#111">2</text>
<text transform="translate(517.24,549.20)" text-anchor="middle" style="font-family:'Liberation Serif',serif;font-size:15.50px;font-weight:bold" fill="#111">3</text>
<text transform="translate(573.82,549.20)" text-anchor="middle" style="font-family:'Liberation Serif',serif;font-size:15.50px;font-weight:bold" fill="#111">4</text>
<text transform="translate(630.40,549.20)" text-anchor="middle" style="font-family:'Liberation Serif',serif;font-size:15.50px;font-weight:bold" fill="#111">5</text>
<text transform="translate(278.50,575.80)" text-anchor="start" style="font-family:'Liberation Serif',serif;font-size:28.40px;font-weight:bold" fill="#111">Voltage (V)</text>
<text transform="translate(20.60,350.90) rotate(-90)" text-anchor="start" style="font-family:'Liberation Serif',serif;font-size:28.60px;font-weight:bold" fill="#111">Current (µA)</text>
<text transform="translate(302.00,615.50)" text-anchor="start" style="font-family:'Liberation Serif',serif;font-size:32.60px" fill="#111">(a)</text>
<text transform="translate(97.80,241.80)" text-anchor="start" style="font-family:'Liberation Serif',serif;font-size:16.35px;font-weight:bold" fill="#1c1c1c">-1.34V to 1.34V off in Graphene</text>
<text transform="translate(264.50,438.90) scale(0.4270,0.4600)" style="font-family:'Liberation Serif',serif;font-size:100px;font-style:italic" fill="#161616">I</text>
<rect x="294.60" y="421.80" width="22.60" height="2.40" fill="#161616"/>
<rect x="294.60" y="430.50" width="22.60" height="2.40" fill="#161616"/>
<rect x="328.60" y="426.15" width="66.30" height="2.50" fill="#161616"/>
<text transform="translate(331.61,409.30) scale(0.4225,0.4385)" style="font-family:'Liberation Serif',serif;font-size:100px" fill="#161616">2</text>
<text transform="translate(353.92,409.22) scale(0.4256,0.3833)" style="font-family:'Liberation Serif',serif;font-size:100px;font-style:italic" fill="#161616">e</text>
<text transform="translate(375.16,389.80) scale(0.2350,0.2446)" style="font-family:'Liberation Serif',serif;font-size:100px" fill="#161616">2</text>
<text transform="translate(351.32,474.10) scale(0.4452,0.4391)" style="font-family:'Liberation Serif',serif;font-size:100px;font-style:italic" fill="#161616">h</text>
<text transform="translate(402.63,438.90) scale(0.4292,0.4600)" style="font-family:'Liberation Serif',serif;font-size:100px;font-style:italic" fill="#161616">M</text>
<rect x="451.70" y="425.75" width="125.60" height="2.50" fill="#161616"/>
<text transform="translate(457.51,409.59) scale(0.4697,0.4194)" style="font-family:'Liberation Serif',serif;font-size:100px;font-style:italic" fill="#161616">&#956;</text>
<text transform="translate(481.27,415.30) scale(0.1993,0.2167)" style="font-family:'Liberation Serif',serif;font-size:100px" fill="#161616">1</text>
<rect x="503.50" y="397.30" width="22.50" height="2.40" fill="#161616"/>
<text transform="translate(537.46,409.59) scale(0.4697,0.4194)" style="font-family:'Liberation Serif',serif;font-size:100px;font-style:italic" fill="#161616">&#956;</text>
<text transform="translate(562.72,417.40) scale(0.1700,0.1815)" style="font-family:'Liberation Serif',serif;font-size:100px" fill="#161616">2</text>
<text transform="translate(505.35,473.77) scale(0.4154,0.4250)" style="font-family:'Liberation Serif',serif;font-size:100px;font-style:italic" fill="#161616">e</text>
<line x1="826.03" y1="150.50" x2="826.03" y2="526.80" stroke="#ebebeb" stroke-width="2.6"/>
<line x1="826.03" y1="150.50" x2="826.03" y2="526.80" stroke="#bcbcbc" stroke-width="1.4" stroke-dasharray="2 2.2"/>
<line x1="948.85" y1="150.50" x2="948.85" y2="526.80" stroke="#ebebeb" stroke-width="2.6"/>
<line x1="948.85" y1="150.50" x2="948.85" y2="526.80" stroke="#bcbcbc" stroke-width="1.4" stroke-dasharray="2 2.2"/>
<line x1="1071.67" y1="150.50" x2="1071.67" y2="526.80" stroke="#ebebeb" stroke-width="2.6"/>
<line x1="1071.67" y1="150.50" x2="1071.67" y2="526.80" stroke="#bcbcbc" stroke-width="1.4" stroke-dasharray="2 2.2"/>
<line x1="703.20" y1="464.08" x2="1194.50" y2="464.08" stroke="#ebebeb" stroke-width="2.6"/>
<line x1="703.20" y1="464.08" x2="1194.50" y2="464.08" stroke="#bcbcbc" stroke-width="1.4" stroke-dasharray="2 2.2"/>
<line x1="703.20" y1="401.37" x2="1194.50" y2="401.37" stroke="#ebebeb" stroke-width="2.6"/>
<line x1="703.20" y1="401.37" x2="1194.50" y2="401.37" stroke="#bcbcbc" stroke-width="1.4" stroke-dasharray="2 2.2"/>
<line x1="703.20" y1="338.65" x2="1194.50" y2="338.65" stroke="#ebebeb" stroke-width="2.6"/>
<line x1="703.20" y1="338.65" x2="1194.50" y2="338.65" stroke="#bcbcbc" stroke-width="1.4" stroke-dasharray="2 2.2"/>
<line x1="703.20" y1="275.93" x2="1194.50" y2="275.93" stroke="#ebebeb" stroke-width="2.6"/>
<line x1="703.20" y1="275.93" x2="1194.50" y2="275.93" stroke="#bcbcbc" stroke-width="1.4" stroke-dasharray="2 2.2"/>
<line x1="703.20" y1="213.22" x2="1194.50" y2="213.22" stroke="#ebebeb" stroke-width="2.6"/>
<line x1="703.20" y1="213.22" x2="1194.50" y2="213.22" stroke="#bcbcbc" stroke-width="1.4" stroke-dasharray="2 2.2"/>
<path d="M703.20,521.21 L703.86,520.72 L704.52,520.22 L705.17,519.72 L705.83,519.20 L706.49,518.68 L707.15,518.16 L707.81,517.62 L708.46,517.08 L709.12,516.53 L709.78,515.98 L710.44,515.42 L711.09,514.85 L711.75,514.27 L712.41,513.69 L713.07,513.11 L713.73,512.51 L714.38,511.92 L715.04,511.31 L715.70,510.70 L716.36,510.09 L717.02,509.46 L717.67,508.84 L718.33,508.21 L718.99,507.57 L719.65,506.93 L720.30,506.28 L720.96,505.63 L721.62,504.97 L722.28,504.31 L722.94,503.65 L723.59,502.98 L724.25,502.31 L724.91,501.63 L725.57,500.95 L726.23,500.26 L726.88,499.57 L727.54,498.88 L728.20,498.18 L728.86,497.48 L729.51,496.78 L730.17,496.08 L730.83,495.37 L731.49,494.65 L732.15,493.94 L732.80,493.22 L733.46,492.50 L734.12,491.78 L734.78,491.06 L735.44,490.33 L736.09,489.60 L736.75,488.87 L737.41,488.14 L738.07,487.40 L738.72,486.66 L739.38,485.93 L740.04,485.19 L740.70,484.45 L741.36,483.71 L742.01,482.96 L742.67,482.22 L743.33,481.47 L743.99,480.73 L744.65,479.98 L745.30,479.24 L745.96,478.49 L746.62,477.74 L747.28,477.00 L747.93,476.25 L748.59,475.50 L749.25,474.75 L749.91,474.01 L750.57,473.26 L751.22,472.52 L751.88,471.77 L752.54,471.03 L753.20,470.28 L753.86,469.54 L754.51,468.80 L755.17,468.06 L755.83,467.32 L756.49,466.58 L757.14,465.85 L757.80,465.12 L758.46,464.38 L759.12,463.65 L759.78,462.93 L760.43,462.20 L761.09,461.48 L761.75,460.75 L762.41,460.04 L763.07,459.32 L763.72,458.61 L764.38,457.89 L765.04,457.19 L765.70,456.48 L766.35,455.78 L767.01,455.07 L767.67,454.38 L768.33,453.68 L768.99,452.99 L769.64,452.30 L770.30,451.61 L770.96,450.93 L771.62,450.25 L772.28,449.57 L772.93,448.89 L773.59,448.22 L774.25,447.55 L774.91,446.88 L775.56,446.22 L776.22,445.56 L776.88,444.91 L777.54,444.25 L778.20,443.60 L778.85,442.96 L779.51,442.31 L780.17,441.67 L780.83,441.04 L781.49,440.41 L782.14,439.78 L782.80,439.15 L783.46,438.53 L784.12,437.91 L784.77,437.30 L785.43,436.69 L786.09,436.08 L786.75,435.48 L787.41,434.88 L788.06,434.28 L788.72,433.69 L789.38,433.10 L790.04,432.52 L790.70,431.94 L791.35,431.36 L792.01,430.79 L792.67,430.23 L793.33,429.66 L793.98,429.10 L794.64,428.55 L795.30,428.00 L795.96,427.45 L796.62,426.91 L797.27,426.38 L797.93,425.84 L798.59,425.32 L799.25,424.79 L799.91,424.27 L800.56,423.76 L801.22,423.25 L801.88,422.75 L802.54,422.25 L803.19,421.75 L803.85,421.26 L804.51,420.78 L805.17,420.29 L805.83,419.82 L806.48,419.35 L807.14,418.88 L807.80,418.42 L808.46,417.97 L809.12,417.52 L809.77,417.07 L810.43,416.63 L811.09,416.19 L811.75,415.76 L812.40,415.33 L813.06,414.91 L813.72,414.49 L814.38,414.08 L815.04,413.67 L815.69,413.26 L816.35,412.86 L817.01,412.46 L817.67,412.07 L818.33,411.68 L818.98,411.30 L819.64,410.92 L820.30,410.55 L820.96,410.17 L821.61,409.81 L822.27,409.44 L822.93,409.08 L823.59,408.73 L824.25,408.37 L824.90,408.03 L825.56,407.68 L826.22,407.34 L826.88,407.00 L827.54,406.67 L828.19,406.34 L828.85,406.01 L829.51,405.69 L830.17,405.37 L830.82,405.05 L831.48,404.74 L832.14,404.43 L832.80,404.12 L833.46,403.81 L834.11,403.51 L834.77,403.21 L835.43,402.92 L836.09,402.63 L836.75,402.34 L837.40,402.05 L838.06,401.77 L838.72,401.49 L839.38,401.21 L840.03,400.93 L840.69,400.66 L841.35,400.39 L842.01,400.12 L842.67,399.86 L843.32,399.59 L843.98,399.33 L844.64,399.07 L845.30,398.82 L845.96,398.56 L846.61,398.31 L847.27,398.06 L847.93,397.81 L848.59,397.57 L849.24,397.32 L849.90,397.08 L850.56,396.84 L851.22,396.61 L851.88,396.37 L852.53,396.14 L853.19,395.90 L853.85,395.67 L854.51,395.44 L855.17,395.21 L855.82,394.99 L856.48,394.76 L857.14,394.54 L857.80,394.32 L858.45,394.10 L859.11,393.88 L859.77,393.66 L860.43,393.44 L861.09,393.23 L861.74,393.01 L862.40,392.80 L863.06,392.59 L863.72,392.38 L864.38,392.17 L865.03,391.96 L865.69,391.75 L866.35,391.54 L867.01,391.33 L867.66,391.12 L868.32,390.92 L868.98,390.71 L869.64,390.51 L870.30,390.30 L870.95,390.10 L871.61,389.89 L872.27,389.69 L872.93,389.49 L873.59,389.28 L874.24,389.08 L874.90,388.88 L875.56,388.68 L876.22,388.47 L876.87,388.27 L877.53,388.07 L878.19,387.87 L878.85,387.67 L879.51,387.46 L880.16,387.26 L880.82,387.06 L881.48,386.85 L882.14,386.65 L882.80,386.44 L883.45,386.24 L884.11,386.03 L884.77,385.83 L885.43,385.62 L886.08,385.42 L886.74,385.21 L887.40,385.00 L888.06,384.79 L888.72,384.58 L889.37,384.37 L890.03,384.16 L890.69,383.94 L891.35,383.73 L892.01,383.52 L892.66,383.30 L893.32,383.08 L893.98,382.86 L894.64,382.65 L895.29,382.42 L895.95,382.20 L896.61,381.98 L897.27,381.75 L897.93,381.53 L898.58,381.30 L899.24,381.07 L899.90,380.84" fill="none" stroke="#2222e0" stroke-width="2.2" stroke-linejoin="round"/>
<path d="M997.70,295.65 L998.36,295.46 L999.02,295.27 L999.67,295.09 L1000.33,294.90 L1000.99,294.71 L1001.65,294.53 L1002.31,294.34 L1002.97,294.15 L1003.62,293.97 L1004.28,293.78 L1004.94,293.59 L1005.60,293.41 L1006.26,293.22 L1006.91,293.03 L1007.57,292.84 L1008.23,292.65 L1008.89,292.46 L1009.55,292.27 L1010.21,292.08 L1010.86,291.89 L1011.52,291.70 L1012.18,291.51 L1012.84,291.32 L1013.50,291.13 L1014.15,290.94 L1014.81,290.74 L1015.47,290.55 L1016.13,290.35 L1016.79,290.16 L1017.45,289.96 L1018.10,289.77 L1018.76,289.57 L1019.42,289.37 L1020.08,289.17 L1020.74,288.97 L1021.39,288.77 L1022.05,288.57 L1022.71,288.37 L1023.37,288.16 L1024.03,287.96 L1024.69,287.75 L1025.34,287.55 L1026.00,287.34 L1026.66,287.13 L1027.32,286.92 L1027.98,286.71 L1028.64,286.50 L1029.29,286.29 L1029.95,286.07 L1030.61,285.85 L1031.27,285.64 L1031.93,285.42 L1032.58,285.20 L1033.24,284.98 L1033.90,284.76 L1034.56,284.53 L1035.22,284.31 L1035.88,284.08 L1036.53,283.85 L1037.19,283.62 L1037.85,283.39 L1038.51,283.16 L1039.17,282.92 L1039.82,282.68 L1040.48,282.45 L1041.14,282.21 L1041.80,281.96 L1042.46,281.72 L1043.12,281.48 L1043.77,281.23 L1044.43,280.98 L1045.09,280.73 L1045.75,280.48 L1046.41,280.22 L1047.06,279.97 L1047.72,279.71 L1048.38,279.45 L1049.04,279.18 L1049.70,278.92 L1050.36,278.65 L1051.01,278.38 L1051.67,278.11 L1052.33,277.84 L1052.99,277.56 L1053.65,277.29 L1054.30,277.01 L1054.96,276.72 L1055.62,276.44 L1056.28,276.15 L1056.94,275.86 L1057.60,275.57 L1058.25,275.28 L1058.91,274.98 L1059.57,274.68 L1060.23,274.38 L1060.89,274.07 L1061.54,273.77 L1062.20,273.46 L1062.86,273.15 L1063.52,272.83 L1064.18,272.51 L1064.84,272.19 L1065.49,271.87 L1066.15,271.55 L1066.81,271.22 L1067.47,270.89 L1068.13,270.55 L1068.78,270.21 L1069.44,269.87 L1070.10,269.53 L1070.76,269.19 L1071.42,268.84 L1072.08,268.48 L1072.73,268.13 L1073.39,267.77 L1074.05,267.41 L1074.71,267.05 L1075.37,266.68 L1076.03,266.31 L1076.68,265.93 L1077.34,265.56 L1078.00,265.18 L1078.66,264.79 L1079.32,264.41 L1079.97,264.02 L1080.63,263.62 L1081.29,263.22 L1081.95,262.82 L1082.61,262.42 L1083.27,262.01 L1083.92,261.60 L1084.58,261.19 L1085.24,260.77 L1085.90,260.35 L1086.56,259.92 L1087.21,259.49 L1087.87,259.06 L1088.53,258.62 L1089.19,258.18 L1089.85,257.74 L1090.51,257.29 L1091.16,256.84 L1091.82,256.38 L1092.48,255.92 L1093.14,255.46 L1093.80,254.99 L1094.45,254.52 L1095.11,254.04 L1095.77,253.56 L1096.43,253.08 L1097.09,252.59 L1097.75,252.10 L1098.40,251.60 L1099.06,251.10 L1099.72,250.60 L1100.38,250.09 L1101.04,249.58 L1101.69,249.06 L1102.35,248.54 L1103.01,248.01 L1103.67,247.48 L1104.33,246.95 L1104.99,246.41 L1105.64,245.87 L1106.30,245.32 L1106.96,244.77 L1107.62,244.21 L1108.28,243.65 L1108.93,243.08 L1109.59,242.51 L1110.25,241.94 L1110.91,241.36 L1111.57,240.77 L1112.23,240.18 L1112.88,239.59 L1113.54,238.99 L1114.20,238.39 L1114.86,237.78 L1115.52,237.16 L1116.17,236.54 L1116.83,235.92 L1117.49,235.29 L1118.15,234.66 L1118.81,234.03 L1119.47,233.39 L1120.12,232.74 L1120.78,232.09 L1121.44,231.44 L1122.10,230.78 L1122.76,230.12 L1123.42,229.46 L1124.07,228.79 L1124.73,228.12 L1125.39,227.45 L1126.05,226.77 L1126.71,226.09 L1127.36,225.40 L1128.02,224.72 L1128.68,224.03 L1129.34,223.33 L1130.00,222.64 L1130.66,221.94 L1131.31,221.24 L1131.97,220.54 L1132.63,219.83 L1133.29,219.12 L1133.95,218.41 L1134.60,217.70 L1135.26,216.98 L1135.92,216.27 L1136.58,215.55 L1137.24,214.83 L1137.90,214.11 L1138.55,213.38 L1139.21,212.66 L1139.87,211.93 L1140.53,211.20 L1141.19,210.47 L1141.84,209.74 L1142.50,209.01 L1143.16,208.28 L1143.82,207.55 L1144.48,206.81 L1145.14,206.08 L1145.79,205.34 L1146.45,204.61 L1147.11,203.87 L1147.77,203.13 L1148.43,202.40 L1149.08,201.66 L1149.74,200.92 L1150.40,200.19 L1151.06,199.45 L1151.72,198.71 L1152.38,197.98 L1153.03,197.24 L1153.69,196.51 L1154.35,195.77 L1155.01,195.04 L1155.67,194.31 L1156.32,193.57 L1156.98,192.84 L1157.64,192.11 L1158.30,191.38 L1158.96,190.66 L1159.62,189.93 L1160.27,189.20 L1160.93,188.48 L1161.59,187.76 L1162.25,187.04 L1162.91,186.32 L1163.56,185.60 L1164.22,184.89 L1164.88,184.18 L1165.54,183.47 L1166.20,182.76 L1166.86,182.05 L1167.51,181.35 L1168.17,180.65 L1168.83,179.95 L1169.49,179.26 L1170.15,178.56 L1170.81,177.87 L1171.46,177.19 L1172.12,176.50 L1172.78,175.82 L1173.44,175.14 L1174.10,174.47 L1174.75,173.80 L1175.41,173.13 L1176.07,172.47 L1176.73,171.81 L1177.39,171.15 L1178.05,170.50 L1178.70,169.85 L1179.36,169.21 L1180.02,168.57 L1180.68,167.93 L1181.34,167.30 L1181.99,166.67 L1182.65,166.05 L1183.31,165.43 L1183.97,164.82 L1184.63,164.21 L1185.29,163.61 L1185.94,163.01 L1186.60,162.42 L1187.26,161.83 L1187.92,161.25 L1188.58,160.67 L1189.23,160.10 L1189.89,159.53 L1190.55,158.97 L1191.21,158.42 L1191.87,157.87 L1192.53,157.32 L1193.18,156.78 L1193.84,156.25 L1194.50,155.73" fill="none" stroke="#2222e0" stroke-width="2.2" stroke-linejoin="round"/>
<path d="M899.90,380.20 L900.15,380.07 L900.39,379.94 L900.64,379.81 L900.88,379.67 L901.13,379.54 L901.37,379.40 L901.62,379.26 L901.86,379.13 L902.11,378.99 L902.35,378.85 L902.60,378.71 L902.84,378.57 L903.09,378.42 L903.33,378.28 L903.58,378.13 L903.82,377.99 L904.07,377.84 L904.31,377.69 L904.56,377.54 L904.80,377.39 L905.05,377.24 L905.29,377.09 L905.54,376.94 L905.78,376.79 L906.03,376.63 L906.27,376.48 L906.52,376.32 L906.76,376.16 L907.01,376.00 L907.25,375.85 L907.50,375.69 L907.74,375.53 L907.99,375.36 L908.23,375.20 L908.48,375.04 L908.72,374.87 L908.97,374.71 L909.21,374.54 L909.46,374.38 L909.70,374.21 L909.95,374.04 L910.19,373.87 L910.44,373.70 L910.68,373.53 L910.93,373.36 L911.18,373.18 L911.42,373.01 L911.67,372.83 L911.91,372.65 L912.16,372.47 L912.40,372.29 L912.65,372.10 L912.89,371.92 L913.14,371.73 L913.38,371.54 L913.63,371.35 L913.87,371.16 L914.12,370.97 L914.36,370.78 L914.61,370.59 L914.85,370.39 L915.10,370.20 L915.34,370.00 L915.59,369.80 L915.83,369.61 L916.08,369.41 L916.32,369.21 L916.57,369.01 L916.81,368.81 L917.06,368.61 L917.30,368.41 L917.55,368.20 L917.79,368.00 L918.04,367.80 L918.28,367.60 L918.53,367.39 L918.77,367.19 L919.02,366.98 L919.26,366.78 L919.51,366.58 L919.75,366.37 L920.00,366.17 L920.24,365.96 L920.49,365.76 L920.73,365.55 L920.98,365.35 L921.22,365.15 L921.47,364.94 L921.72,364.74 L921.96,364.53 L922.21,364.33 L922.45,364.13 L922.70,363.92 L922.94,363.72 L923.19,363.51 L923.43,363.31 L923.68,363.10 L923.92,362.89 L924.17,362.69 L924.41,362.48 L924.66,362.27 L924.90,362.07 L925.15,361.86 L925.39,361.65 L925.64,361.44 L925.88,361.23 L926.13,361.02 L926.37,360.81 L926.62,360.60 L926.86,360.39 L927.11,360.18 L927.35,359.96 L927.60,359.75 L927.84,359.54 L928.09,359.32 L928.33,359.10 L928.58,358.89 L928.82,358.67 L929.07,358.45 L929.31,358.23 L929.56,358.01 L929.80,357.79 L930.05,357.57 L930.29,357.35 L930.54,357.13 L930.78,356.90 L931.03,356.68 L931.27,356.45 L931.52,356.22 L931.76,356.00 L932.01,355.77 L932.25,355.54 L932.50,355.31 L932.75,355.07 L932.99,354.84 L933.24,354.60 L933.48,354.36 L933.73,354.12 L933.97,353.88 L934.22,353.64 L934.46,353.39 L934.71,353.14 L934.95,352.90 L935.20,352.65 L935.44,352.40 L935.69,352.15 L935.93,351.89 L936.18,351.64 L936.42,351.39 L936.67,351.13 L936.91,350.88 L937.16,350.62 L937.40,350.36 L937.65,350.11 L937.89,349.85 L938.14,349.59 L938.38,349.33 L938.63,349.07 L938.87,348.82 L939.12,348.56 L939.36,348.30 L939.61,348.04 L939.85,347.78 L940.10,347.52 L940.34,347.26 L940.59,347.01 L940.83,346.75 L941.08,346.49 L941.32,346.23 L941.57,345.98 L941.81,345.72 L942.06,345.47 L942.30,345.22 L942.55,344.96 L942.79,344.71 L943.04,344.46 L943.28,344.21 L943.53,343.96 L943.78,343.71 L944.02,343.47 L944.27,343.22 L944.51,342.97 L944.76,342.72 L945.00,342.47 L945.25,342.23 L945.49,341.98 L945.74,341.73 L945.98,341.49 L946.23,341.24 L946.47,341.00 L946.72,340.75 L946.96,340.50 L947.21,340.26 L947.45,340.01 L947.70,339.77 L947.94,339.52 L948.19,339.28 L948.43,339.03 L948.68,338.78 L948.92,338.54 L949.17,338.29 L949.41,338.05 L949.66,337.80 L949.90,337.55 L950.15,337.31 L950.39,337.06 L950.64,336.82 L950.88,336.57 L951.13,336.32 L951.37,336.07 L951.62,335.83 L951.86,335.58 L952.11,335.33 L952.35,335.08 L952.60,334.83 L952.84,334.58 L953.09,334.33 L953.33,334.08 L953.58,333.83 L953.82,333.58 L954.07,333.33 L954.32,333.08 L954.56,332.82 L954.81,332.57 L955.05,332.31 L955.30,332.06 L955.54,331.80 L955.79,331.54 L956.03,331.28 L956.28,331.02 L956.52,330.76 L956.77,330.50 L957.01,330.23 L957.26,329.97 L957.50,329.71 L957.75,329.44 L957.99,329.18 L958.24,328.92 L958.48,328.65 L958.73,328.39 L958.97,328.13 L959.22,327.86 L959.46,327.60 L959.71,327.34 L959.95,327.07 L960.20,326.81 L960.44,326.55 L960.69,326.29 L960.93,326.03 L961.18,325.77 L961.42,325.51 L961.67,325.25 L961.91,325.00 L962.16,324.74 L962.40,324.49 L962.65,324.24 L962.89,323.99 L963.14,323.74 L963.38,323.49 L963.63,323.24 L963.87,323.00 L964.12,322.76 L964.36,322.52 L964.61,322.28 L964.85,322.04 L965.10,321.80 L965.35,321.57 L965.59,321.34 L965.84,321.11 L966.08,320.88 L966.33,320.65 L966.57,320.42 L966.82,320.19 L967.06,319.97 L967.31,319.74 L967.55,319.52 L967.80,319.30 L968.04,319.08 L968.29,318.86 L968.53,318.64 L968.78,318.42 L969.02,318.20 L969.27,317.98 L969.51,317.76 L969.76,317.55 L970.00,317.33 L970.25,317.12 L970.49,316.90 L970.74,316.69 L970.98,316.48 L971.23,316.27 L971.47,316.05 L971.72,315.84 L971.96,315.63 L972.21,315.42 L972.45,315.21 L972.70,315.00 L972.94,314.79 L973.19,314.58 L973.43,314.37 L973.68,314.17 L973.92,313.96 L974.17,313.75 L974.41,313.54 L974.66,313.33 L974.90,313.13 L975.15,312.92 L975.39,312.71 L975.64,312.50 L975.88,312.30 L976.13,312.09 L976.38,311.88 L976.62,311.67 L976.87,311.47 L977.11,311.26 L977.36,311.05 L977.60,310.84 L977.85,310.64 L978.09,310.43 L978.34,310.22 L978.58,310.01 L978.83,309.81 L979.07,309.60 L979.32,309.39 L979.56,309.19 L979.81,308.98 L980.05,308.78 L980.30,308.57 L980.54,308.37 L980.79,308.16 L981.03,307.96 L981.28,307.76 L981.52,307.55 L981.77,307.35 L982.01,307.15 L982.26,306.95 L982.50,306.75 L982.75,306.55 L982.99,306.36 L983.24,306.16 L983.48,305.96 L983.73,305.77 L983.97,305.58 L984.22,305.38 L984.46,305.19 L984.71,305.00 L984.95,304.81 L985.20,304.62 L985.44,304.44 L985.69,304.25 L985.93,304.07 L986.18,303.88 L986.42,303.70 L986.67,303.52 L986.92,303.34 L987.16,303.16 L987.41,302.99 L987.65,302.81 L987.90,302.63 L988.14,302.46 L988.39,302.28 L988.63,302.11 L988.88,301.94 L989.12,301.76 L989.37,301.59 L989.61,301.42 L989.86,301.25 L990.10,301.08 L990.35,300.91 L990.59,300.74 L990.84,300.57 L991.08,300.41 L991.33,300.24 L991.57,300.07 L991.82,299.91 L992.06,299.74 L992.31,299.58 L992.55,299.42 L992.80,299.26 L993.04,299.10 L993.29,298.94 L993.53,298.78 L993.78,298.62 L994.02,298.46 L994.27,298.30 L994.51,298.15 L994.76,297.99 L995.00,297.84 L995.25,297.69 L995.49,297.53 L995.74,297.38 L995.98,297.23 L996.23,297.08 L996.47,296.93 L996.72,296.78 L996.96,296.64 L997.21,296.49 L997.45,296.34 L997.70,296.20" fill="none" stroke="#b01830" stroke-width="2.2"/>
<circle cx="899.9" cy="380.2" r="4.3" fill="#ff1414"/>
<circle cx="910.3" cy="373.8" r="4.3" fill="#ff1414"/>
<circle cx="921.4" cy="365.0" r="4.3" fill="#ff1414"/>
<circle cx="932.4" cy="355.4" r="4.3" fill="#ff1414"/>
<circle cx="943.1" cy="344.4" r="4.3" fill="#ff1414"/>
<circle cx="954.1" cy="333.3" r="4.3" fill="#ff1414"/>
<circle cx="965.0" cy="321.9" r="4.3" fill="#ff1414"/>
<circle cx="976.0" cy="312.2" r="4.3" fill="#ff1414"/>
<circle cx="986.7" cy="303.5" r="4.3" fill="#ff1414"/>
<circle cx="997.7" cy="296.2" r="4.3" fill="#ff1414"/>
<rect x="703.2" y="150.5" width="491.3" height="376.3" fill="none" stroke="#787878" stroke-width="2.3"/>
<line x1="826.03" y1="526.80" x2="826.03" y2="521.80" stroke="#787878" stroke-width="1.5"/>
<line x1="826.03" y1="150.50" x2="826.03" y2="155.50" stroke="#787878" stroke-width="1.5"/>
<line x1="948.85" y1="526.80" x2="948.85" y2="521.80" stroke="#787878" stroke-width="1.5"/>
<line x1="948.85" y1="150.50" x2="948.85" y2="155.50" stroke="#787878" stroke-width="1.5"/>
<line x1="1071.67" y1="526.80" x2="1071.67" y2="521.80" stroke="#787878" stroke-width="1.5"/>
<line x1="1071.67" y1="150.50" x2="1071.67" y2="155.50" stroke="#787878" stroke-width="1.5"/>
<line x1="703.20" y1="464.08" x2="708.20" y2="464.08" stroke="#787878" stroke-width="1.5"/>
<line x1="1194.50" y1="464.08" x2="1189.50" y2="464.08" stroke="#787878" stroke-width="1.5"/>
<line x1="703.20" y1="401.37" x2="708.20" y2="401.37" stroke="#787878" stroke-width="1.5"/>
<line x1="1194.50" y1="401.37" x2="1189.50" y2="401.37" stroke="#787878" stroke-width="1.5"/>
<line x1="703.20" y1="338.65" x2="708.20" y2="338.65" stroke="#787878" stroke-width="1.5"/>
<line x1="1194.50" y1="338.65" x2="1189.50" y2="338.65" stroke="#787878" stroke-width="1.5"/>
<line x1="703.20" y1="275.93" x2="708.20" y2="275.93" stroke="#787878" stroke-width="1.5"/>
<line x1="1194.50" y1="275.93" x2="1189.50" y2="275.93" stroke="#787878" stroke-width="1.5"/>
<line x1="703.20" y1="213.22" x2="708.20" y2="213.22" stroke="#787878" stroke-width="1.5"/>
<line x1="1194.50" y1="213.22" x2="1189.50" y2="213.22" stroke="#787878" stroke-width="1.5"/>
<text transform="translate(700.30,157.50)" text-anchor="end" style="font-family:'Liberation Serif',serif;font-size:19.60px;font-weight:bold" fill="#111">30</text>
<text transform="translate(700.30,220.22)" text-anchor="end" style="font-family:'Liberation Serif',serif;font-size:19.60px;font-weight:bold" fill="#111">20</text>
<text transform="translate(700.30,282.93)" text-anchor="end" style="font-family:'Liberation Serif',serif;font-size:19.60px;font-weight:bold" fill="#111">10</text>
<text transform="translate(700.30,345.65)" text-anchor="end" style="font-family:'Liberation Serif',serif;font-size:19.60px;font-weight:bold" fill="#111">0</text>
<text transform="translate(700.30,408.37)" text-anchor="end" style="font-family:'Liberation Serif',serif;font-size:19.60px;font-weight:bold" fill="#111">-10</text>
<text transform="translate(700.30,471.08)" text-anchor="end" style="font-family:'Liberation Serif',serif;font-size:19.60px;font-weight:bold" fill="#111">-20</text>
<text transform="translate(700.30,533.80)" text-anchor="end" style="font-family:'Liberation Serif',serif;font-size:19.60px;font-weight:bold" fill="#111">-30</text>
<text transform="translate(700.90,546.90)" text-anchor="middle" style="font-family:'Liberation Serif',serif;font-size:18.50px;font-weight:bold" fill="#111">-1</text>
<text transform="translate(823.73,546.90)" text-anchor="middle" style="font-family:'Liberation Serif',serif;font-size:18.50px;font-weight:bold" fill="#111">-0.5</text>
<text transform="translate(949.15,546.90)" text-anchor="middle" style="font-family:'Liberation Serif',serif;font-size:18.50px;font-weight:bold" fill="#111">0</text>
<text transform="translate(1071.97,546.90)" text-anchor="middle" style="font-family:'Liberation Serif',serif;font-size:18.50px;font-weight:bold" fill="#111">0.5</text>
<text transform="translate(1194.80,546.90)" text-anchor="middle" style="font-family:'Liberation Serif',serif;font-size:18.50px;font-weight:bold" fill="#111">1</text>
<text transform="translate(900.00,566.60)" text-anchor="start" style="font-family:'Liberation Serif',serif;font-size:19.75px;font-weight:bold" fill="#111">Voltage (V)</text>
<text transform="translate(664.80,394.80) rotate(-90)" text-anchor="start" style="font-family:'Liberation Serif',serif;font-size:19.60px;font-weight:bold" fill="#111">Current (µA)</text>
<text transform="translate(900.60,617.00)" text-anchor="start" style="font-family:'Liberation Serif',serif;font-size:33.00px" fill="#111">(b)</text>
<text transform="translate(752.46,494.40) scale(0.2916,0.3169)" style="font-family:'Liberation Serif',serif;font-size:100px;font-style:italic" fill="#161616">I</text>
<rect x="773.30" y="482.15" width="16.20" height="1.90" fill="#161616"/>
<rect x="773.30" y="487.75" width="16.20" height="1.90" fill="#161616"/>
<rect x="798.30" y="485.40" width="45.80" height="2.00" fill="#161616"/>
<text transform="translate(800.11,474.00) scale(0.2975,0.3015)" style="font-family:'Liberation Serif',serif;font-size:100px" fill="#161616">2</text>
<text transform="translate(816.13,474.20) scale(0.2897,0.2958)" style="font-family:'Liberation Serif',serif;font-size:100px;font-style:italic" fill="#161616">e</text>
<text transform="translate(830.98,460.10) scale(0.1656,0.1800)" style="font-family:'Liberation Serif',serif;font-size:100px" fill="#161616">2</text>
<text transform="translate(812.99,518.50) scale(0.3286,0.3029)" style="font-family:'Liberation Serif',serif;font-size:100px;font-style:italic" fill="#161616">h</text>
<text transform="translate(849.80,494.40) scale(0.3011,0.3169)" style="font-family:'Liberation Serif',serif;font-size:100px;font-style:italic" fill="#161616">M</text>
<rect x="885.30" y="485.20" width="91.80" height="2.00" fill="#161616"/>
<text transform="translate(888.94,474.01) scale(0.3410,0.3045)" style="font-family:'Liberation Serif',serif;font-size:100px;font-style:italic" fill="#161616">&#956;</text>
<text transform="translate(904.96,481.50) scale(0.1450,0.1576)" style="font-family:'Liberation Serif',serif;font-size:100px" fill="#161616">1</text>
<rect x="920.50" y="465.35" width="16.50" height="1.70" fill="#161616"/>
<text transform="translate(945.74,474.01) scale(0.3410,0.3045)" style="font-family:'Liberation Serif',serif;font-size:100px;font-style:italic" fill="#161616">&#956;</text>
<text transform="translate(963.54,481.50) scale(0.1671,0.1492)" style="font-family:'Liberation Serif',serif;font-size:100px" fill="#161616">2</text>
<text transform="translate(924.82,517.62) scale(0.2923,0.2771)" style="font-family:'Liberation Serif',serif;font-size:100px;font-style:italic" fill="#161616">e</text>
<rect x="712" y="151.7" width="232" height="183.3" fill="#fff"/>
<line x1="759.21" y1="160.00" x2="759.21" y2="313.60" stroke="#e4e4e4" stroke-width="1.2"/>
<line x1="784.42" y1="160.00" x2="784.42" y2="313.60" stroke="#e4e4e4" stroke-width="1.2"/>
<line x1="809.64" y1="160.00" x2="809.64" y2="313.60" stroke="#e4e4e4" stroke-width="1.2"/>
<line x1="834.85" y1="160.00" x2="834.85" y2="313.60" stroke="#e4e4e4" stroke-width="1.2"/>
<line x1="860.06" y1="160.00" x2="860.06" y2="313.60" stroke="#e4e4e4" stroke-width="1.2"/>
<line x1="885.28" y1="160.00" x2="885.28" y2="313.60" stroke="#e4e4e4" stroke-width="1.2"/>
<line x1="910.49" y1="160.00" x2="910.49" y2="313.60" stroke="#e4e4e4" stroke-width="1.2"/>
<line x1="734.00" y1="294.40" x2="935.70" y2="294.40" stroke="#e4e4e4" stroke-width="1.2"/>
<line x1="734.00" y1="275.20" x2="935.70" y2="275.20" stroke="#e4e4e4" stroke-width="1.2"/>
<line x1="734.00" y1="256.00" x2="935.70" y2="256.00" stroke="#e4e4e4" stroke-width="1.2"/>
<line x1="734.00" y1="236.80" x2="935.70" y2="236.80" stroke="#e4e4e4" stroke-width="1.2"/>
<line x1="734.00" y1="217.60" x2="935.70" y2="217.60" stroke="#e4e4e4" stroke-width="1.2"/>
<line x1="734.00" y1="198.40" x2="935.70" y2="198.40" stroke="#e4e4e4" stroke-width="1.2"/>
<line x1="734.00" y1="179.20" x2="935.70" y2="179.20" stroke="#e4e4e4" stroke-width="1.2"/>
<path d="M734.00,300.02 L734.67,299.79 L735.35,299.55 L736.02,299.31 L736.70,299.06 L737.37,298.81 L738.05,298.56 L738.72,298.30 L739.40,298.03 L740.07,297.77 L740.75,297.50 L741.42,297.23 L742.09,296.95 L742.77,296.67 L743.44,296.38 L744.12,296.10 L744.79,295.80 L745.47,295.51 L746.14,295.21 L746.82,294.91 L747.49,294.60 L748.17,294.29 L748.84,293.98 L749.52,293.66 L750.19,293.35 L750.86,293.02 L751.54,292.70 L752.21,292.37 L752.89,292.04 L753.56,291.70 L754.24,291.36 L754.91,291.02 L755.59,290.67 L756.26,290.32 L756.94,289.97 L757.61,289.62 L758.28,289.26 L758.96,288.90 L759.63,288.54 L760.31,288.17 L760.98,287.80 L761.66,287.43 L762.33,287.05 L763.01,286.68 L763.68,286.29 L764.36,285.91 L765.03,285.52 L765.71,285.13 L766.38,284.74 L767.05,284.35 L767.73,283.95 L768.40,283.55 L769.08,283.15 L769.75,282.74 L770.43,282.34 L771.10,281.93 L771.78,281.51 L772.45,281.10 L773.13,280.68 L773.80,280.26 L774.47,279.84 L775.15,279.41 L775.82,278.99 L776.50,278.56 L777.17,278.12 L777.85,277.69 L778.52,277.25 L779.20,276.82 L779.87,276.37 L780.55,275.93 L781.22,275.49 L781.90,275.04 L782.57,274.59 L783.24,274.14 L783.92,273.69 L784.59,273.23 L785.27,272.78 L785.94,272.32 L786.62,271.86 L787.29,271.39 L787.97,270.93 L788.64,270.46 L789.32,269.99 L789.99,269.52 L790.66,269.05 L791.34,268.58 L792.01,268.10 L792.69,267.63 L793.36,267.15 L794.04,266.67 L794.71,266.19 L795.39,265.71 L796.06,265.22 L796.74,264.74 L797.41,264.25 L798.09,263.76 L798.76,263.27 L799.43,262.78 L800.11,262.28 L800.78,261.79 L801.46,261.29 L802.13,260.80 L802.81,260.30 L803.48,259.80 L804.16,259.30 L804.83,258.80 L805.51,258.29 L806.18,257.79 L806.85,257.28 L807.53,256.78 L808.20,256.27 L808.88,255.76 L809.55,255.25 L810.23,254.74 L810.90,254.23 L811.58,253.72 L812.25,253.21 L812.93,252.69 L813.60,252.18 L814.28,251.67 L814.95,251.15 L815.62,250.63 L816.30,250.12 L816.97,249.60 L817.65,249.08 L818.32,248.56 L819.00,248.04 L819.67,247.52 L820.35,247.00 L821.02,246.48 L821.70,245.95 L822.37,245.43 L823.04,244.91 L823.72,244.39 L824.39,243.86 L825.07,243.34 L825.74,242.81 L826.42,242.29 L827.09,241.76 L827.77,241.24 L828.44,240.71 L829.12,240.19 L829.79,239.66 L830.47,239.14 L831.14,238.61 L831.81,238.08 L832.49,237.56 L833.16,237.03 L833.84,236.51 L834.51,235.98 L835.19,235.45 L835.86,234.93 L836.54,234.40 L837.21,233.88 L837.89,233.35 L838.56,232.83 L839.23,232.30 L839.91,231.78 L840.58,231.25 L841.26,230.73 L841.93,230.20 L842.61,229.68 L843.28,229.16 L843.96,228.63 L844.63,228.11 L845.31,227.59 L845.98,227.07 L846.66,226.55 L847.33,226.03 L848.00,225.51 L848.68,224.99 L849.35,224.47 L850.03,223.95 L850.70,223.44 L851.38,222.92 L852.05,222.40 L852.73,221.89 L853.40,221.38 L854.08,220.86 L854.75,220.35 L855.42,219.84 L856.10,219.33 L856.77,218.82 L857.45,218.31 L858.12,217.80 L858.80,217.29 L859.47,216.79 L860.15,216.28 L860.82,215.78 L861.50,215.28 L862.17,214.78 L862.85,214.28 L863.52,213.78 L864.19,213.28 L864.87,212.78 L865.54,212.29 L866.22,211.80 L866.89,211.30 L867.57,210.81 L868.24,210.32 L868.92,209.83 L869.59,209.35 L870.27,208.86 L870.94,208.38 L871.61,207.90 L872.29,207.42 L872.96,206.94 L873.64,206.46 L874.31,205.98 L874.99,205.51 L875.66,205.04 L876.34,204.56 L877.01,204.10 L877.69,203.63 L878.36,203.16 L879.04,202.70 L879.71,202.24 L880.38,201.78 L881.06,201.32 L881.73,200.86 L882.41,200.41 L883.08,199.96 L883.76,199.51 L884.43,199.06 L885.11,198.61 L885.78,198.17 L886.46,197.73 L887.13,197.29 L887.80,196.85 L888.48,196.41 L889.15,195.98 L889.83,195.55 L890.50,195.12 L891.18,194.70 L891.85,194.27 L892.53,193.85 L893.20,193.43 L893.88,193.02 L894.55,192.60 L895.23,192.19 L895.90,191.78 L896.57,191.37 L897.25,190.97 L897.92,190.57 L898.60,190.17 L899.27,189.77 L899.95,189.38 L900.62,188.99 L901.30,188.60 L901.97,188.22 L902.65,187.83 L903.32,187.45 L903.99,187.08 L904.67,186.70 L905.34,186.33 L906.02,185.96 L906.69,185.60 L907.37,185.24 L908.04,184.88 L908.72,184.52 L909.39,184.17 L910.07,183.82 L910.74,183.47 L911.42,183.13 L912.09,182.79 L912.76,182.45 L913.44,182.11 L914.11,181.78 L914.79,181.46 L915.46,181.13 L916.14,180.81 L916.81,180.49 L917.49,180.18 L918.16,179.87 L918.84,179.56 L919.51,179.25 L920.18,178.95 L920.86,178.66 L921.53,178.36 L922.21,178.07 L922.88,177.79 L923.56,177.50 L924.23,177.22 L924.91,176.95 L925.58,176.68 L926.26,176.41 L926.93,176.14 L927.61,175.88 L928.28,175.63 L928.95,175.37 L929.63,175.13 L930.30,174.88 L930.98,174.64 L931.65,174.40 L932.33,174.17 L933.00,173.94 L933.68,173.71 L934.35,173.49 L935.03,173.28 L935.70,173.06" fill="none" stroke="#f06a6a" stroke-width="1.5"/>
<rect x="734.0" y="160.0" width="201.7" height="153.6" fill="none" stroke="#8a8a8a" stroke-width="1.4"/>
<text transform="translate(733.30,316.10)" text-anchor="end" style="font-family:'Liberation Serif',serif;font-size:7.20px;font-weight:bold" fill="#555">-8</text>
<text transform="translate(733.30,296.90)" text-anchor="end" style="font-family:'Liberation Serif',serif;font-size:7.20px;font-weight:bold" fill="#555">-6</text>
<text transform="translate(733.30,277.70)" text-anchor="end" style="font-family:'Liberation Serif',serif;font-size:7.20px;font-weight:bold" fill="#555">-4</text>
<text transform="translate(733.30,258.50)" text-anchor="end" style="font-family:'Liberation Serif',serif;font-size:7.20px;font-weight:bold" fill="#555">-2</text>
<text transform="translate(733.30,239.30)" text-anchor="end" style="font-family:'Liberation Serif',serif;font-size:7.20px;font-weight:bold" fill="#555">0</text>
<text transform="translate(733.30,220.10)" text-anchor="end" style="font-family:'Liberation Serif',serif;font-size:7.20px;font-weight:bold" fill="#555">2</text>
<text transform="translate(733.30,200.90)" text-anchor="end" style="font-family:'Liberation Serif',serif;font-size:7.20px;font-weight:bold" fill="#555">4</text>
<text transform="translate(733.30,181.70)" text-anchor="end" style="font-family:'Liberation Serif',serif;font-size:7.20px;font-weight:bold" fill="#555">6</text>
<text transform="translate(733.30,162.50)" text-anchor="end" style="font-family:'Liberation Serif',serif;font-size:7.20px;font-weight:bold" fill="#555">8</text>
<text transform="translate(734.00,321.80)" text-anchor="middle" style="font-family:'Liberation Serif',serif;font-size:7.50px;font-weight:bold" fill="#444">-0.2</text>
<text transform="translate(759.21,321.80)" text-anchor="middle" style="font-family:'Liberation Serif',serif;font-size:7.50px;font-weight:bold" fill="#444">-0.15</text>
<text transform="translate(784.42,321.80)" text-anchor="middle" style="font-family:'Liberation Serif',serif;font-size:7.50px;font-weight:bold" fill="#444">-0.1</text>
<text transform="translate(809.64,321.80)" text-anchor="middle" style="font-family:'Liberation Serif',serif;font-size:7.50px;font-weight:bold" fill="#444">-0.05</text>
<text transform="translate(834.85,321.80)" text-anchor="middle" style="font-family:'Liberation Serif',serif;font-size:7.50px;font-weight:bold" fill="#444">0</text>
<text transform="translate(860.06,321.80)" text-anchor="middle" style="font-family:'Liberation Serif',serif;font-size:7.50px;font-weight:bold" fill="#444">0.05</text>
<text transform="translate(885.28,321.80)" text-anchor="middle" style="font-family:'Liberation Serif',serif;font-size:7.50px;font-weight:bold" fill="#444">0.1</text>
<text transform="translate(910.49,321.80)" text-anchor="middle" style="font-family:'Liberation Serif',serif;font-size:7.50px;font-weight:bold" fill="#444">0.15</text>
<text transform="translate(935.70,321.80)" text-anchor="middle" style="font-family:'Liberation Serif',serif;font-size:7.50px;font-weight:bold" fill="#444">0.2</text>
<text transform="translate(835.00,329.80)" text-anchor="middle" style="font-family:'Liberation Serif',serif;font-size:8.00px;font-weight:bold" fill="#444">Voltage (V)</text>
<text transform="translate(722.80,234.50) rotate(-90) scale(1.1000,1.0000)" text-anchor="middle" style="font-family:'Liberation Serif',serif;font-size:8.00px;font-weight:bold" fill="#444">Current (µA)</text>
<text transform="translate(833.20,277.20)" text-anchor="start" style="font-family:'Liberation Serif',serif;font-size:25.30px;font-weight:bold" fill="#111">Low V</text>
<rect x="996" y="299.5" width="284" height="223.5" fill="#fff"/>
<line x1="1051.17" y1="305.80" x2="1051.17" y2="498.10" stroke="#e2e2e2" stroke-width="1.3"/>
<line x1="1082.75" y1="305.80" x2="1082.75" y2="498.10" stroke="#e2e2e2" stroke-width="1.3"/>
<line x1="1114.33" y1="305.80" x2="1114.33" y2="498.10" stroke="#e2e2e2" stroke-width="1.3"/>
<line x1="1145.90" y1="305.80" x2="1145.90" y2="498.10" stroke="#e2e2e2" stroke-width="1.3"/>
<line x1="1177.47" y1="305.80" x2="1177.47" y2="498.10" stroke="#e2e2e2" stroke-width="1.3"/>
<line x1="1209.05" y1="305.80" x2="1209.05" y2="498.10" stroke="#e2e2e2" stroke-width="1.3"/>
<line x1="1240.62" y1="305.80" x2="1240.62" y2="498.10" stroke="#e2e2e2" stroke-width="1.3"/>
<line x1="1019.60" y1="466.05" x2="1272.20" y2="466.05" stroke="#e2e2e2" stroke-width="1.3"/>
<line x1="1019.60" y1="434.00" x2="1272.20" y2="434.00" stroke="#e2e2e2" stroke-width="1.3"/>
<line x1="1019.60" y1="401.95" x2="1272.20" y2="401.95" stroke="#e2e2e2" stroke-width="1.3"/>
<line x1="1019.60" y1="369.90" x2="1272.20" y2="369.90" stroke="#e2e2e2" stroke-width="1.3"/>
<line x1="1019.60" y1="337.85" x2="1272.20" y2="337.85" stroke="#e2e2e2" stroke-width="1.3"/>
<path d="M1019.60,306.85 L1021.48,311.05 L1023.36,315.23 L1025.24,319.37 L1027.13,323.47 L1029.01,327.55 L1030.89,331.59 L1032.77,335.59 L1034.65,339.56 L1036.53,343.50 L1038.42,347.40 L1040.30,351.26 L1042.18,355.08 L1044.06,358.87 L1045.94,362.61 L1047.82,366.32 L1049.71,369.99 L1051.59,373.61 L1053.47,377.19 L1055.35,380.73 L1057.23,384.22 L1059.11,387.67 L1061.00,391.08 L1062.88,394.44 L1064.76,397.75 L1066.64,401.02 L1068.52,404.23 L1070.40,407.40 L1072.29,410.52 L1074.17,413.59 L1076.05,416.61 L1077.93,419.58 L1079.81,422.49 L1081.69,425.36 L1083.58,428.16 L1085.46,430.92 L1087.34,433.62 L1089.22,436.26 L1091.10,438.85 L1092.98,441.38 L1094.87,443.85 L1096.75,446.26 L1098.63,448.61 L1100.51,450.91 L1102.39,453.14 L1104.27,455.31 L1106.16,457.42 L1108.04,459.46 L1109.92,461.45 L1111.80,463.36 L1113.68,465.22 L1115.56,467.00 L1117.45,468.72 L1119.33,470.38 L1121.21,471.96 L1123.09,473.48 L1124.97,474.92 L1126.85,476.30 L1128.74,477.61 L1130.62,478.84 L1135.99,455.47 L1140.85,456.76 L1145.39,457.72 L1150.32,456.76 L1154.61,455.47 L1160.61,478.83 L1162.51,477.51 L1164.40,476.22 L1166.29,474.94 L1168.18,473.68 L1170.07,472.42 L1171.96,471.18 L1173.85,469.93 L1175.74,468.68 L1177.64,467.42 L1179.53,466.16 L1181.42,464.87 L1183.31,463.57 L1185.20,462.25 L1187.09,460.90 L1188.98,459.52 L1190.87,458.11 L1192.77,456.66 L1194.66,455.16 L1196.55,453.62 L1198.44,452.03 L1200.33,450.38 L1202.22,448.67 L1204.11,446.90 L1206.00,445.07 L1207.90,443.17 L1209.79,441.19 L1211.68,439.13 L1213.57,436.99 L1215.46,434.76 L1217.35,432.44 L1219.24,430.03 L1221.14,427.52 L1223.03,424.91 L1224.92,422.19 L1226.81,419.36 L1228.70,416.42 L1230.59,413.36 L1232.48,410.18 L1234.37,406.87 L1236.27,403.43 L1238.16,399.85 L1240.05,396.14 L1241.94,392.28 L1243.83,388.28 L1245.72,384.13 L1247.61,379.82 L1249.50,375.36 L1251.40,370.73 L1253.29,365.94 L1255.18,360.98 L1257.07,355.84 L1258.96,350.53 L1260.85,345.03 L1262.74,339.35 L1264.63,333.47 L1266.53,327.41 L1268.42,321.14 L1270.31,314.67 L1272.20,308.00" fill="none" stroke="#3c3c3c" stroke-width="1.4" stroke-linejoin="round"/>
<rect x="1019.6" y="305.8" width="252.6" height="192.3" fill="none" stroke="#a0a0a0" stroke-width="1.5"/>
<text transform="translate(1017.80,501.10) scale(1.1200,1.0000)" text-anchor="end" style="font-family:'Liberation Serif',serif;font-size:8.80px;font-weight:bold" fill="#444">24</text>
<text transform="translate(1017.80,469.05) scale(1.1200,1.0000)" text-anchor="end" style="font-family:'Liberation Serif',serif;font-size:8.80px;font-weight:bold" fill="#444">25</text>
<text transform="translate(1017.80,437.00) scale(1.1200,1.0000)" text-anchor="end" style="font-family:'Liberation Serif',serif;font-size:8.80px;font-weight:bold" fill="#444">26</text>
<text transform="translate(1017.80,404.95) scale(1.1200,1.0000)" text-anchor="end" style="font-family:'Liberation Serif',serif;font-size:8.80px;font-weight:bold" fill="#444">27</text>
<text transform="translate(1017.80,372.90) scale(1.1200,1.0000)" text-anchor="end" style="font-family:'Liberation Serif',serif;font-size:8.80px;font-weight:bold" fill="#444">28</text>
<text transform="translate(1017.80,340.85) scale(1.1200,1.0000)" text-anchor="end" style="font-family:'Liberation Serif',serif;font-size:8.80px;font-weight:bold" fill="#444">29</text>
<text transform="translate(1017.80,308.80) scale(1.1200,1.0000)" text-anchor="end" style="font-family:'Liberation Serif',serif;font-size:8.80px;font-weight:bold" fill="#444">30</text>
<text transform="translate(1018.80,509.00) scale(1.1800,1.0000)" text-anchor="middle" style="font-family:'Liberation Serif',serif;font-size:8.80px;font-weight:bold" fill="#444">-0.2</text>
<text transform="translate(1050.38,509.00) scale(1.1800,1.0000)" text-anchor="middle" style="font-family:'Liberation Serif',serif;font-size:8.80px;font-weight:bold" fill="#444">-0.15</text>
<text transform="translate(1081.95,509.00) scale(1.1800,1.0000)" text-anchor="middle" style="font-family:'Liberation Serif',serif;font-size:8.80px;font-weight:bold" fill="#444">-0.1</text>
<text transform="translate(1113.53,509.00) scale(1.1800,1.0000)" text-anchor="middle" style="font-family:'Liberation Serif',serif;font-size:8.80px;font-weight:bold" fill="#444">-0.05</text>
<text transform="translate(1145.90,509.00) scale(1.1800,1.0000)" text-anchor="middle" style="font-family:'Liberation Serif',serif;font-size:8.80px;font-weight:bold" fill="#444">0</text>
<text transform="translate(1177.47,509.00) scale(1.1800,1.0000)" text-anchor="middle" style="font-family:'Liberation Serif',serif;font-size:8.80px;font-weight:bold" fill="#444">0.05</text>
<text transform="translate(1209.05,509.00) scale(1.1800,1.0000)" text-anchor="middle" style="font-family:'Liberation Serif',serif;font-size:8.80px;font-weight:bold" fill="#444">0.1</text>
<text transform="translate(1240.62,509.00) scale(1.1800,1.0000)" text-anchor="middle" style="font-family:'Liberation Serif',serif;font-size:8.80px;font-weight:bold" fill="#444">0.15</text>
<text transform="translate(1272.20,509.00) scale(1.1800,1.0000)" text-anchor="middle" style="font-family:'Liberation Serif',serif;font-size:8.80px;font-weight:bold" fill="#444">0.2</text>
<text transform="translate(1145.50,520.30) scale(1.1600,1.0000)" text-anchor="middle" style="font-family:'Liberation Serif',serif;font-size:9.00px;font-weight:bold" fill="#444">Voltage (V)</text>
<text transform="translate(1003.80,401.80) rotate(-90) scale(1.0900,1.0000)" text-anchor="middle" style="font-family:'Liberation Serif',serif;font-size:9.00px;font-weight:bold" fill="#444">Resistance (k&#937;)</text>
<text transform="translate(1145.44,348.50) scale(0.5405,0.5232)" style="font-family:'Liberation Serif',serif;font-size:100px;font-style:italic" fill="#111">h</text>
<rect x="1119.00" y="368.00" width="80.50" height="2.80" fill="#111"/>
<text transform="translate(1122.87,422.80) scale(0.5325,0.5354)" style="font-family:'Liberation Serif',serif;font-size:100px" fill="#111">2</text>
<text transform="translate(1149.90,423.20) scale(0.5000,0.5021)" style="font-family:'Liberation Serif',serif;font-size:100px;font-style:italic" fill="#111">e</text>
<text transform="translate(1175.34,399.10) scale(0.2900,0.3062)" style="font-family:'Liberation Serif',serif;font-size:100px" fill="#111">2</text>
</svg>
</body></html>
